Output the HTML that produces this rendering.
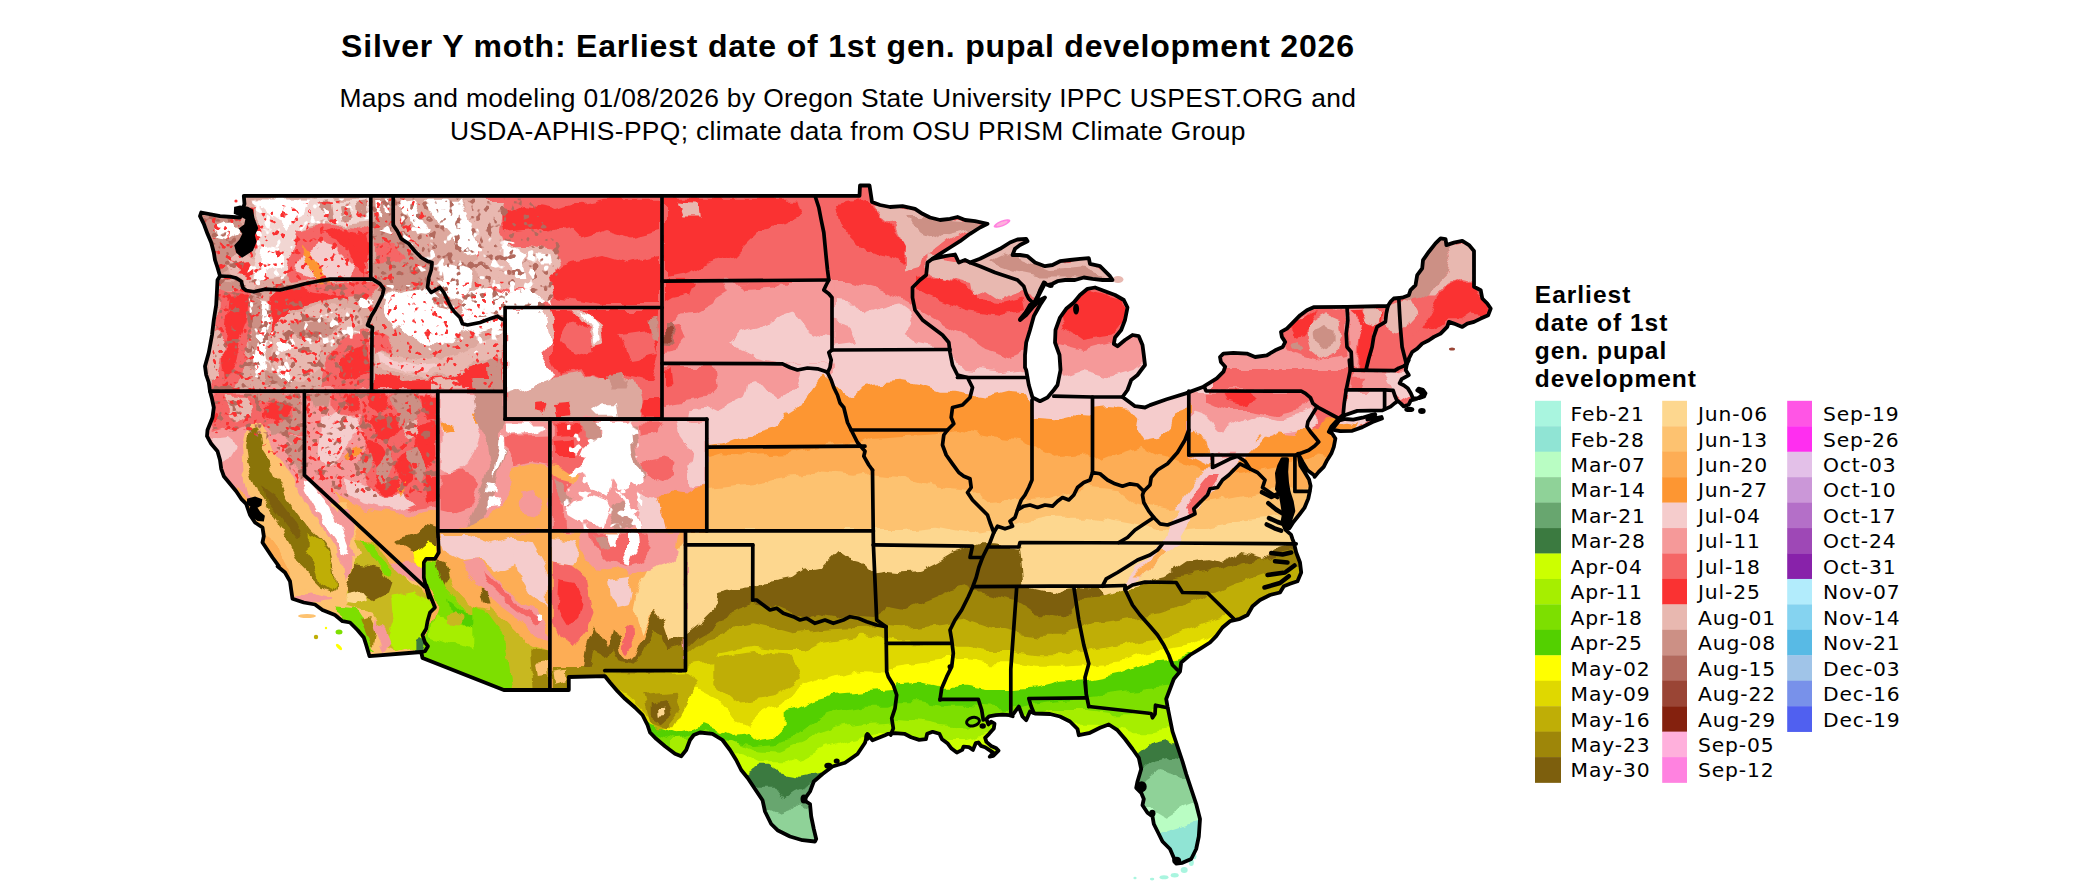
<!DOCTYPE html>
<html><head><meta charset="utf-8"><title>Silver Y moth</title>
<style>
html,body{margin:0;padding:0;background:#fff;}
body{width:2100px;height:892px;overflow:hidden;position:relative;font-family:"Liberation Sans",sans-serif;}
svg{position:absolute;left:0;top:0;}
.t{font-family:"Liberation Sans",sans-serif;fill:#000;}
.l{font-family:"DejaVu Sans","Liberation Sans",sans-serif;font-size:20.3px;letter-spacing:0.88px;fill:#000;}
</style></head><body>
<svg width="2100" height="892" viewBox="0 0 2100 892">
<rect width="2100" height="892" fill="#fff"/>
<defs><clipPath id="us"><path d="M243.8,195.8 244.5,203.8 240,217.5 220,216.2 201.2,212.5 200,216.2 203.8,223.8 207.5,233.8 211.2,242.5 213.8,252.5 215,260 217.5,267.5 220,276 217.5,280 217,290 216.2,305 213.8,320 212,335 208.8,352.5 205,366.2 206.2,375 208.8,382.5 210,391.2 212,398.8 213.8,407.5 212.5,417.5 207.5,430 207,436.2 211.2,443.8 217.5,451.2 220,460 221.2,468.8 223.8,476.2 230,483.8 236.2,491.2 241.2,498.8 246.2,503.8 250,515 255,522.5 262.5,527.5 263.8,536.2 262.5,542.5 267.5,550 272.5,557.5 278.8,566.2 277.5,566.2 285,572.5 290,581.2 291.2,590 292.5,598.8 303.8,602.5 315,604.5 322.5,610 335,615 342.5,621.2 350,622.5 357.5,630 363.8,637.5 366.2,645 369.5,656.2 421.2,652 422.5,658 503.8,690 568.8,690 568.8,677 605,676.2 610,682.5 617.5,691.2 625,698.8 635,707.5 642.5,715 647.5,725 650,732.5 656.2,738.8 665,746.2 675,753.8 681.2,756.2 686.2,750 690,740 693.8,735 700,732.5 712.5,733.8 722.5,740 730,750 736.2,760 741.2,770 747.5,777.8 755,789 762.5,800.2 765,811.5 771.2,824 777.5,830.2 790,836.5 802.5,840.2 815,841.5 816.2,839 813.8,829 811.2,816.5 810,804 803.8,800.2 810,791.5 813.8,781.5 822.5,774 832.5,766.5 845,762.8 857.5,754 865,742.8 867.5,734 872.5,740.2 885,735.2 888.2,733.8 895,733.1 904.4,733.8 911.1,737.2 919.2,739.9 925.9,739.2 927.2,733.8 932.6,731.8 939.4,733.8 942,739.2 947.4,743.2 951.5,748.6 956.8,752.6 962.2,749.9 963.6,746.6 968.9,747.2 973,749.9 975.7,743.2 978.4,742.5 981,745.9 985.1,747.2 989.1,749.9 993.2,752.6 989.8,756.7 993.2,756 998.5,750.6 995.8,747.9 991.1,745.9 986.4,741.9 985.1,737.8 989.1,733.8 993.8,728.4 994.5,723.7 991.1,721.7 988.4,724.4 986.4,719 989.1,716.3 995.8,715.2 1002.6,714.7 1009.3,715.2 1012.7,716.3 1012.5,715.2 1018.8,706.5 1022.5,716.5 1026.2,720.2 1030,711.5 1035,713.5 1050,714 1060,716.5 1070,721.5 1077.5,729 1078.8,735.2 1090,732.8 1100,727.8 1108.8,724.5 1117.5,730.2 1125,739 1132.5,749 1138.8,757.8 1141.2,769 1137.5,781.5 1136.2,787.8 1141.2,792.8 1143.8,799 1142.5,805.2 1147.5,812.8 1152.5,816.5 1153.8,824 1158.8,834 1162.5,841.5 1170,849 1173.8,857.8 1176.2,863.5 1182.5,862.8 1191.2,859 1196.2,849 1198.8,836.5 1200,819 1196.2,804 1191.2,789 1186.2,774 1182.5,761.5 1177.5,746.5 1172.5,731.5 1169.5,716.5 1167.5,706.5 1166.2,699 1170,689 1173.8,679 1180,671.5 1181.2,662.5 1190,655 1200,648.8 1210,642.5 1216.2,636.2 1222.5,627.5 1230,621.2 1240,618.8 1247.5,615 1252.5,606.2 1260,600 1270,595 1280,592.5 1283.8,586.2 1290,583.8 1297.5,581.2 1301.2,572.5 1300,562.5 1296.2,552.5 1293.8,542.5 1292.6,539.3 1291,534.6 1285.5,529.9 1282.4,522 1283.9,514.2 1282.4,504.8 1280.8,495.3 1276.9,489.1 1277.7,482.8 1276.9,473.4 1279.2,465.5 1282.4,459.2 1287.1,459.2 1286.3,471.8 1287.1,482.8 1288.7,492.2 1291.8,501.6 1293.4,511 1290.2,520.5 1289.4,528.3 1293.4,522 1299.6,514.2 1304.4,507.9 1308.3,498.5 1309.8,491.4 1310.6,485.9 1309.1,479.6 1304.4,471.8 1300.4,465.5 1298.9,455.3 1298.1,453.7 1302.8,462.4 1307.5,470.2 1313.8,474.9 1314.6,476.9 1318.7,471.9 1323.7,466.9 1327.1,460.2 1331.3,453.6 1333.8,446.9 1335.4,438.5 1332.1,433.5 1328.8,431.8 1331.3,426.8 1338.8,418.5 1338.8,418.5 1345.2,415 1357.3,410.9 1370.4,410.7 1382.5,410.4 1390.6,406.6 1395.1,402.9 1397.7,400.9 1400.7,403.4 1403.7,406.4 1408.8,404.4 1410.8,400.3 1416.8,398.8 1421.9,395.5 1420.9,392.5 1417.3,390.3 1418.6,388.6 1422.9,389.8 1425.5,393.3 1424.1,396.5 1419.1,398.1 1413,398.3 1410.8,393.3 1407.8,388.2 1403.7,385.2 1399.7,383.2 1401.7,379.2 1408.8,375.1 1405.7,370.1 1406.9,364 1408.8,360 1406.3,363.7 1408.8,358.7 1412.2,352 1417.2,348.6 1422.2,343.6 1428.9,340.3 1433.9,336.9 1440.6,333.6 1447.2,326.9 1448.9,321.9 1453.9,323.6 1462.3,326.9 1467.3,323.6 1474,321.9 1480.7,318.6 1488.2,315.2 1490.7,308.5 1487.3,303.5 1482.3,298.5 1480.7,290.2 1474,286.8 1474,250.9 1469,245.1 1462.3,240.9 1453.9,242.6 1446.4,245.1 1445.6,239.2 1440.6,238.4 1435.5,243.4 1428.9,251.7 1423,260.1 1422.2,268.4 1417.2,275.1 1415.5,285.2 1410.5,290.2 1408.8,295.2 1402.1,297.7 1393.8,298.5 1390.4,301.9 1387.9,306 1347,306.9 1313.6,307.2 1306.9,310.2 1300.2,315.2 1293.6,321.9 1286.9,328.6 1281,331.9 1281.9,336.9 1285.2,342 1282.7,347 1275.2,350.3 1266.8,355.3 1255.1,357 1246.8,353.6 1233.4,352.8 1223.4,353.6 1220,357 1220.9,362 1225.2,366.7 1223.5,371.7 1216.8,378.4 1203.5,386.7 1185.9,393.4 1166.7,399.3 1150,405.1 1145,407.5 1135,406.2 1130,402.5 1122.5,397 1127.5,390 1131.2,380 1137.5,375 1141.2,370 1145,365 1143.8,355 1142.5,345 1138.8,336.2 1132.5,335 1125,340 1117.5,346.2 1113.8,343.8 1115,337.5 1121.2,330 1125,320 1127.5,307.5 1123.8,300 1115,295 1105,291.2 1095,287.5 1087.5,288.8 1080,295 1073.8,302.5 1066.2,308.8 1060,317.5 1055.5,330 1055,342.5 1059.5,355 1060.5,370 1057.5,385 1053.8,390 1047.5,397.5 1040,401.2 1032.5,397.5 1028.8,385 1026.2,370 1025,367.5 1025,355 1026.2,342.5 1030,330 1033.8,316.2 1040,305 1045,297.5 1040,300 1032.5,307.5 1026.2,315 1020,320 1025,313.8 1030,305 1035,305 1037.5,297.5 1040,290 1043.8,282.5 1047.5,285 1052.5,283.8 1057.5,281.2 1065,280 1075,280 1083.8,277.5 1092.5,278.8 1102.5,280 1112.5,280 1110,276.2 1105,271.2 1100,266.2 1090,263.8 1088.8,258.2 1080,258.8 1070,260 1060,261.2 1052.5,265 1045,266.2 1035,262.5 1027.5,256.2 1020,255 1012.5,255 1015,248.8 1020,245 1027.5,241.2 1026.2,238.8 1017.5,239.5 1010,242.5 1000,248.8 990,253.8 980,258.8 970,262.5 965,260 958.8,262.5 955,254.5 945,256.2 932.5,258.8 940,253.8 950,247.5 960,241.2 970,233.8 980,227.5 987.5,223.8 975,221.2 965,220 957.5,217 950,218.8 940,220 930,217.5 922.5,213.8 915,208.8 902.5,206.2 890,207 880,205 872,202 869.5,185.5 860,185.5 859.5,195.8ZM1332.1,429.6 1339.2,420.5 1345.2,419 1353.3,419.7 1362.4,417.7 1370.4,415.2 1375.3,414.5 1374.5,416.5 1367.4,419.5 1381.5,417 1382,418.5 1372.5,422 1362.4,427.1 1352.3,430.8 1340.2,431.1Z"/></clipPath></defs>
<filter id="rough" x="0" y="0" width="2100" height="892" filterUnits="userSpaceOnUse" color-interpolation-filters="sRGB"><feTurbulence type="fractalNoise" baseFrequency="0.045" numOctaves="3" seed="7" result="n"/><feDisplacementMap in="SourceGraphic" in2="n" scale="13" xChannelSelector="R" yChannelSelector="G"/></filter>
<filter id="spw" x="0" y="0" width="2100" height="892" filterUnits="userSpaceOnUse" color-interpolation-filters="sRGB"><feTurbulence type="fractalNoise" baseFrequency="0.11" numOctaves="2" seed="3" result="t"/><feColorMatrix in="t" type="matrix" values="0 0 0 0 1 0 0 0 0 1 0 0 0 0 1 14 0 0 0 -8.5" result="m"/><feComposite in="SourceGraphic" in2="m" operator="in"/></filter>
<filter id="spb" x="0" y="0" width="2100" height="892" filterUnits="userSpaceOnUse" color-interpolation-filters="sRGB"><feTurbulence type="fractalNoise" baseFrequency="0.13" numOctaves="2" seed="11" result="t"/><feColorMatrix in="t" type="matrix" values="0 0 0 0 1 0 0 0 0 1 0 0 0 0 1 14 0 0 0 -8.4" result="m"/><feComposite in="SourceGraphic" in2="m" operator="in"/></filter>
<filter id="spr" x="0" y="0" width="2100" height="892" filterUnits="userSpaceOnUse" color-interpolation-filters="sRGB"><feTurbulence type="fractalNoise" baseFrequency="0.16" numOctaves="2" seed="23" result="t"/><feColorMatrix in="t" type="matrix" values="0 0 0 0 1 0 0 0 0 1 0 0 0 0 1 14 0 0 0 -8.8" result="m"/><feComposite in="SourceGraphic" in2="m" operator="in"/></filter>
<g clip-path="url(#us)"><g filter="url(#rough)">
<rect x="150" y="150" width="1400" height="750" fill="#F56666"/>
<path fill="#FA3232" d="M655,198.8 677.5,198.8 740,198.8 795,198.8 800,215 780,225 760,230 745,245 735,255 710,262.5 690,275 663.8,280 655,280Z"/>
<path fill="#E8B8B0" d="M677.5,202.5 697.5,203.8 698.8,217.5 682.5,217.5Z"/>
<path fill="#FA3232" d="M835,205 865,200 880,215 895,230 905,245 902.5,265 885,255 865,250 850,235 837.5,220Z"/>
<path fill="#F59999" d="M790,280 850,280 883.3,290 910,303.3 933.3,316.7 960,333.3 983.3,350 1006.7,356.7 1023.3,350 1056.7,343.3 1083.3,350 1110,343.3 1133.3,336.7 1150,330 1210,330 1210,470 790,470Z"/>
<path fill="#F5CCCC" d="M790,313.3 850,313.3 883.3,316.7 916.7,343.3 946.7,350 966.7,370 1000,373.3 1023.3,370 1063.3,376.7 1083.3,370 1110,376.7 1133.3,370 1150,356.7 1210,356.7 1210,470 790,470Z"/>
<path fill="#F59999" d="M661.7,281.7 833.8,281.7 833.8,450.4 661.7,450.4Z"/>
<path fill="#F56666" d="M661.7,281.7 720.2,281.7 726.9,293.4 710.2,303.4 695.1,311.8 680.1,313.4 670.1,325.1 661.7,326.8Z"/>
<path fill="#FA3232" d="M661.7,281.7 695.1,281.7 690.1,293.4 673.4,296.7 661.7,303.4Z"/>
<path fill="#F56666" d="M661.7,326.8 680.1,325.1 686.8,340.2 676.8,350.2 661.7,353.5Z"/>
<path fill="#F56666" d="M740.2,281.7 780.3,281.7 773.6,288.4 746.9,290Z"/>
<path fill="#F5CCCC" d="M730.2,343.5 740.2,333.5 778.7,320.1 795.4,313.4 807.1,328.5 828.8,340.2 833.8,350.2 833.8,363.6 787,362.7 756.9,356.9 740.2,350.2Z"/>
<path fill="#F56666" d="M663.4,366.9 713.5,366.9 716.8,383.6 703.5,397 683.4,400.3 663.4,403.6Z"/>
<path fill="#FA3232" d="M661.7,370.2 671.7,370.2 673.4,386.9 661.7,390.3Z"/>
<path fill="#F5CCCC" d="M703.5,450.4 723.5,407 743.6,397 746.9,383.6 756.9,381.9 767,393.6 778.7,398.6 795.4,386.9 800.4,373.6 823.8,370.2 833.8,376.9 833.8,450.4Z"/>
<path fill="#F5CCCC" d="M683.4,450.4 690.1,410.3 706.8,408.7 720.2,415.3 720.2,450.4Z"/>
<path fill="#F5CCCC" d="M785.3,363.6 828.8,363.6 828.8,376.9 800.4,373.6Z"/>
<path fill="#B36A5E" d="M662.6,323.5 671.7,321.8 676.8,333.5 674.2,346 664.2,344.3Z"/>
<path fill="#9A4535" d="M665.1,327.6 671.7,326.8 674.7,335.2 672.1,342.7 665.9,341Z"/>
<path fill="#F5CCCC" d="M833.8,300.1 853.8,301.7 863.9,313.4 877.2,308.4 900.6,303.4 914,313.4 907.3,325.1 900.6,340.2 883.9,343.5 857.2,343.5 833.8,343.5Z"/>
<path fill="#F59999" d="M833.8,320.1 850.5,325.1 857.2,343.5 833.8,346.8Z"/>
<path fill="#FA3232" d="M915,280 940,277.5 965,287.5 977.5,300 1002.5,302.5 1022.5,297.5 1025,310 1000,315 965,310 940,300 915,290Z"/>
<path fill="#FA3232" d="M1065,290 1090,290 1125,300 1127.5,320 1115,335 1080,340 1065,330 1060,310Z"/>
<path fill="#E8B8B0" d="M875,207.5 890,205 915,210 940,217.5 987.5,223.8 965,232.5 945,242.5 925,257.5 922.5,267.5 905,272.5 905,245 895,225 880,215Z"/>
<path fill="#CC9085" d="M905,215 927.5,215 952.5,221.2 987.5,223.8 965,231.2 940,237.5 920,230Z"/>
<path fill="#E8B8B0" d="M927.5,255 970,262.5 1015,280 1025,290 1000,300 985,290 972.5,297.5 970,285 950,280 927.5,275Z"/>
<path fill="#E8B8B0" d="M965,265 1010,237.5 1030,240 1065,262.5 1090,257.5 1115,280 1085,280 1052.5,285 1030,297.5 1015,280Z"/>
<path fill="#CC9085" d="M985,262.5 1005,252.5 1025,260 1050,270 1085,267.5 1105,277.5 1065,277.5 1040,277.5 1015,272.5Z"/>
<path fill="#FD9632" d="M648.3,445 708.3,445 720,443.3 736.7,436.7 760,431.7 776.7,426.7 786.7,413.3 800,405 807,393.7 816.7,380 824,373.7 832,377 840.3,387 853.7,397 864,387 874,383.7 880,383.3 900,381.7 920,385 940,391.7 953.3,391.7 973.3,395 986.7,396.7 1006.7,391.7 1026.7,393.3 1033.3,416.7 1053.3,418.3 1066.7,415 1090,416.7 1093.3,406.7 1110,405 1130,406.7 1138.3,416.7 1136.7,430 1143.3,440 1160,436.7 1170,426.7 1173.3,413.3 1183.3,410 1188.3,396.7 1188.3,454 1206.7,463.3 1230,463.3 1253.3,440 1273.3,433.3 1293.3,430 1320,426.7 1380,426.7 1380,900 648.3,900Z"/>
<path fill="#FDAD55" d="M648.3,456.7 708.3,456.7 720,453.3 753.3,455 786.7,453.3 820,446.7 853.3,443.3 873.3,436.7 903.3,435 936.7,433.3 953.3,430 986.7,436.7 1020,440 1033.3,446.7 1053.3,456.7 1086.7,453.3 1103.3,460 1120,453.3 1140,446.7 1160,456.7 1186.7,463.3 1220,476.7 1253.3,470 1286.7,463.3 1306.7,456.7 1366.7,456.7 1366.7,900 648.3,900Z"/>
<path fill="#FDC270" d="M626.7,490 686.7,490 720,486.7 753.3,483.3 786.7,476.7 820,473.3 853.3,476.7 873.3,473.3 903.3,476.7 936.7,486.7 970,490 986.7,503.3 1020,500 1053.3,496.7 1086.7,486.7 1120,490 1136.7,503.3 1170,510 1203.3,503.3 1236.7,496.7 1270,490 1293.3,486.7 1353.3,486.7 1353.3,900 626.7,900Z"/>
<path fill="#FDD78F" d="M626.7,530 686.7,530 870,530 873.3,530 903.3,530 936.7,526.7 970,533.3 986.7,530 1003.3,530 1020,523.3 1053.3,516.7 1086.7,516.7 1120,523.3 1140,526.7 1170,530 1203.3,526.7 1236.7,520 1270,516.7 1293.3,513.3 1353.3,513.3 1353.3,900 626.7,900Z"/>
<path fill="#7D5F0D" d="M540,668.3 600,668.3 681.7,668.3 683.3,630 686.7,633.3 703.3,620 716.7,606.7 720,593.3 733.3,590 753.3,586.7 760,581.7 776.7,580 793.3,576.7 803.3,570 820,566.7 830,556.7 836.7,550 846.7,556.7 860,560 870,570 875,573.3 886.7,571.7 903.3,573.3 920,571.7 936.7,563.3 953.3,553.3 970,548.3 983.3,543.3 996.7,543.3 1020,546.7 1021.7,563.3 1023.3,586.7 1053.3,593.3 1080,576.7 1093.3,583.3 1100,593.3 1106.7,606.7 1126.7,593.3 1153.3,580 1166.7,576.7 1186.7,563.3 1206.7,560 1220,563.3 1240,553.3 1260,560 1280,546.7 1293.3,543.3 1353.3,543.3 1353.3,900 540,900Z"/>
<path fill="#9E8609" d="M540,669.3 600,669.3 681.7,669.3 683.3,650 696.7,636.7 720,623.3 730,610 753.3,601.7 770,605 786.7,611.7 806.7,616.7 820,615 836.7,618.3 853.3,613.3 875,615 886.7,606.7 903.3,610 920,603.3 936.7,596.7 953.3,590 966.7,586.7 973.3,590 986.7,593.3 1016.7,600 1036.7,613.3 1053.3,616.7 1070,613.3 1080,603.3 1086.7,596.7 1103.3,595 1126.7,590 1140,586.7 1153.3,583.3 1180,576.7 1203.3,573.3 1220,570 1240,563.3 1260,560 1280,553.3 1293.3,550 1353.3,550 1353.3,900 540,900Z"/>
<path fill="#BFAE06" d="M540,670.7 600,670.7 653.3,672 681.7,666.7 683.3,656.7 703.3,640 720,636.7 736.7,626.7 753.3,623.3 770,626.7 793.3,633.3 820,630 853.3,628.3 883.3,626.7 903.3,628.3 920,626.7 946.7,623.3 966.7,620 986.7,626.7 1013.3,633.3 1036.7,636.7 1063.3,636.7 1080,630 1093.3,623.3 1120,620 1140,616.7 1160,613.3 1180,606.7 1193.3,603.3 1206.7,593.3 1220,590 1236.7,583.3 1253.3,576.7 1273.3,570 1333.3,570 1333.3,900 540,900Z"/>
<path fill="#DFD800" d="M563.3,686.7 623.3,686.7 640,680 660,673.3 686.7,666.7 713.3,663.3 720,653.3 736.7,650 753.3,646.7 780,650 806.7,650 820,643.3 840,640 860,636.7 883.3,640 896.7,643.3 920,643.3 946.7,646.7 966.7,646.7 986.7,650 1013.3,650 1036.7,653.3 1063.3,653.3 1086.7,650 1106.7,646.7 1126.7,643.3 1146.7,640 1166.7,636.7 1186.7,630 1203.3,623.3 1220,618.3 1233.3,616.7 1293.3,616.7 1293.3,900 563.3,900Z"/>
<path fill="#FFFF00" d="M593.3,726.7 653.3,726.7 676.7,696.7 696.7,690 716.7,700 730,716.7 746.7,726.7 760,713.3 780,703.3 793.3,690 806.7,683.3 826.7,676.7 846.7,673.3 860,670 883.3,671.7 896.7,666.7 920,663.3 946.7,660 966.7,660 986.7,663.3 1013.3,663.3 1036.7,666.7 1063.3,666.7 1086.7,665 1106.7,663.3 1126.7,660 1146.7,653.3 1166.7,650 1186.7,646.7 1200,640 1213.3,633.3 1273.3,633.3 1273.3,900 593.3,900Z"/>
<path fill="#53D000" d="M580,720 640,720 653.3,725 676.7,733.3 690,730 703.3,723.3 720,730 733.3,735 746.7,733.3 760,740 776.7,736.7 786.7,726.7 786.7,710 800,706.7 813.3,700 833.3,695 853.3,693.3 870,691.7 893.3,690 896.7,683.3 920,681.7 940,686.7 966.7,686.7 986.7,690 1013.3,690 1036.7,688.3 1050,685 1063.3,681.7 1086.7,680 1103.3,676.7 1120,673.3 1140,665 1153.3,661.7 1173.3,660 1186.7,655 1246.7,655 1246.7,900 580,900Z"/>
<path fill="#7DDF00" d="M593.3,731.7 653.3,731.7 676.7,740 690,736.7 703.3,730 720,736.7 733.3,741.7 753.3,745 776.7,743.3 793.3,736.7 806.7,726.7 820,716.7 840,710 860,706.7 886.7,706.7 896.7,703.3 920,703.3 940,706.7 966.7,706.7 986.7,708.3 1010,710 1030,703.3 1053.3,700 1086.7,696.7 1113.3,693.3 1140,690 1166.7,686.7 1226.7,686.7 1226.7,900 593.3,900Z"/>
<path fill="#A6EE00" d="M670,740 730,740 753.3,750 780,751.7 800,743.3 820,733.3 840,726.7 860,723.3 886.7,721.7 896.7,720 920,721.7 940,725 966.7,726.7 986.7,720 1010,716.7 1033.3,713.3 1053.3,710 1086.7,710 1113.3,713.3 1140,713.3 1166.7,706.7 1226.7,706.7 1226.7,900 670,900Z"/>
<path fill="#CCFF00" d="M680,753.3 740,753.3 760,763.3 786.7,763.3 806.7,756.7 826.7,746.7 846.7,740 866.7,736.7 886.7,733.3 913.3,736.7 940,740 966.7,740 986.7,733.3 1020,730 1053.3,726.7 1086.7,726.7 1113.3,726.7 1133.3,733.3 1153.3,733.3 1166.7,730 1226.7,730 1226.7,900 680,900Z"/>
<path fill="#3B7A40" d="M690,773.3 750,773.3 760,766.7 770,766.7 780,773.3 800,776.7 816.7,773.3 826.7,770 853.3,773.3 1120,773.3 1140,753.3 1153.3,743.3 1166.7,740 1173.3,743.3 1233.3,743.3 1233.3,900 690,900Z"/>
<path fill="#68A66F" d="M696.7,786.7 756.7,786.7 773.3,786.7 783.3,800 793.3,793.3 806.7,786.7 816.7,780 853.3,786.7 1120,786.7 1141.7,766.7 1156.7,760 1170,756.7 1176.7,760 1236.7,760 1236.7,900 696.7,900Z"/>
<path fill="#8FD298" d="M706.7,810 766.7,810 780,816.7 790,813.3 800,803.3 806.7,806.7 811.7,800 853.3,806.7 1120,806.7 1145,780 1160,770 1173.3,773.3 1183.3,780 1243.3,780 1243.3,900 706.7,900Z"/>
<path fill="#B9FDC3" d="M1026.7,840 1086.7,840 1150,806.7 1166.7,816.7 1183.3,806.7 1193.3,803.3 1253.3,803.3 1253.3,900 1026.7,900Z"/>
<path fill="#90E4D4" d="M1060,856.7 1120,856.7 1160,833.3 1180,826.7 1196.7,820 1256.7,820 1256.7,900 1060,900Z"/>
<path fill="#FDD78F" d="M1021.7,545 1053.3,546.7 1086.7,548.3 1120,550 1140,560 1140,576.7 1120,585 1100,590 1080,587.3 1053.3,590 1025,586.7 1023.3,563.3Z"/>
<path fill="#F59999" d="M1188.1,390.9 1301.2,390.9 1317.1,406.8 1307,426.8 1318.7,441.9 1297,454.4 1188.1,455.2Z"/>
<path fill="#F56666" d="M1206.8,391.7 1300.4,391.7 1310.4,398.4 1300.4,410.1 1277,415.1 1250.2,410.1 1225.2,410.1 1206.8,401.8Z"/>
<path fill="#FA3232" d="M1223.5,393.4 1250.2,393.4 1256.9,400.1 1243.6,405.1 1226.8,401.8Z"/>
<path fill="#F5CCCC" d="M1190.1,410.1 1205.1,415.1 1220.2,430.2 1236.9,423.5 1256.9,415.1 1277,420.1 1300.4,415.1 1310.4,410.1 1317.1,423.5 1307,430.2 1283.6,433.5 1256.9,440.2 1243.6,453.6 1190.1,454.4Z"/>
<path fill="#FD9632" d="M1243.6,454.4 1250.2,443.5 1256.9,435.2 1266.9,438.5 1277,433.5 1293.7,435.2 1300.4,430.2 1310.4,426.8 1317.1,430.2 1327.1,418.5 1337.1,416.8 1337.1,440.2 1330.4,460.2 1317.1,476.9 1293.7,460.2 1295.3,455.2Z"/>
<path fill="#FD9632" d="M1189.3,433.5 1196.8,431.8 1205.1,443.5 1208.5,453.6 1189.3,454.4Z"/>
<path fill="#FDAD55" d="M1300.4,460.2 1317.1,453.6 1330.4,456.9 1323.7,470.3 1314.6,478.6 1305.4,470.3Z"/>
<path fill="#F5CCCC" d="M1211.8,455.6 1236.9,455.6 1253.6,438.5 1266.9,433.5 1256.9,446.9 1243.6,460.2 1230.2,473.6 1216.8,487 1205.1,498.7 1193.4,510.4 1173.4,510.4 1186.8,493.6 1200.1,476.9 1210.1,463.6Z"/>
<path fill="#F56666" d="M1198.4,492 1206.8,476.9 1213.5,470.3 1216.8,473.6 1208.5,483.6 1203.5,493.6 1196.8,498.7Z"/>
<path fill="#F5CCCC" d="M1125,582.5 1135,570 1150,555 1160,545 1167.5,532.5 1175,517.5 1185,502.5 1197.5,485 1210,470 1230,470 1220,485 1205,497.5 1195,512.5 1185,530 1177.5,542.5 1167.5,552.5 1155,565 1140,577.5 1130,587.5Z"/>
<path fill="#F56666" d="M1185,507.5 1197.5,490 1210,475 1220,475 1210,490 1200,502.5 1190,517.5Z"/>
<path fill="#FDAD55" d="M1132.5,577.5 1150,560 1160,550 1167.5,552.5 1155,565 1140,577.5Z"/>
<path fill="#F59999" d="M1220,353.6 1283.5,347 1293.6,320.2 1313.6,306.9 1347,306.9 1350.4,369 1220,369Z"/>
<path fill="#F56666" d="M1280.2,336.9 1293.6,321.9 1313.6,308.5 1345.3,308.5 1345.3,353.6 1316.9,360.3 1293.6,353.6Z"/>
<path fill="#E8B8B0" d="M1306.9,326.9 1316.9,320.2 1327,315.2 1338.7,320.2 1340.3,336.9 1333.6,353.6 1320.3,358.7 1310.3,350.3 1306.9,336.9Z"/>
<path fill="#CC9085" d="M1313.6,333.6 1323.6,326.9 1333.6,330.3 1333.6,343.6 1323.6,350.3 1315.3,343.6Z"/>
<path fill="#CC9085" d="M1291.9,342 1296.9,340.3 1303.6,348.6 1300.2,352 1293.6,347Z"/>
<path fill="#FA3232" d="M1293.6,323.6 1306.9,313.6 1316.9,313.6 1310.3,323.6 1303.6,333.6 1295.2,335.3Z"/>
<path fill="#F59999" d="M1348.7,308.5 1367.1,308.5 1360.4,326.9 1357,347 1355.4,369 1351.2,369 1350.4,336.9Z"/>
<path fill="#FA3232" d="M1350.4,310.2 1385.4,308.5 1383.8,321.9 1375.4,326.9 1372.1,347 1367.1,369 1357,369 1358.7,336.9 1362,320.2Z"/>
<path fill="#E8B8B0" d="M1360.4,310.2 1383.8,308.5 1382.1,320.2 1373.7,323.6 1365.4,320.2Z"/>
<path fill="#F56666" d="M1375.4,330.3 1387.1,320.2 1398.8,306.9 1400.5,336.9 1405.5,362 1367.1,369 1372.1,350.3Z"/>
<path fill="#E8B8B0" d="M1388.8,303.5 1402.1,298.5 1410.5,300.2 1417.2,313.6 1408.8,323.6 1397.1,333.6 1388.8,330.3 1387.1,316.9Z"/>
<path fill="#CC9085" d="M1402.1,297.7 1408.8,295.2 1417.2,275.1 1423,260.1 1440.6,238.4 1447.2,245.1 1450.6,258.4 1447.2,270.1 1437.2,280.1 1430.5,293.5 1422.2,298.5 1410.5,300.2Z"/>
<path fill="#E8B8B0" d="M1447.2,245.1 1462.3,240.9 1474,250.9 1474,280.1 1460.6,276.8 1447.2,283.5 1437.2,293.5 1430.5,293.5 1437.2,280.1 1447.2,270.1 1450.6,258.4Z"/>
<path fill="#FA3232" d="M1430.5,313.6 1440.6,293.5 1447.2,285.2 1460.6,278.5 1474,281.8 1482.3,298.5 1490.7,308.5 1484,315.2 1470.6,313.6 1460.6,320.2 1447.2,320.2 1437.2,326.9 1428.9,330.3 1422.2,326.9Z"/>
<path fill="#F56666" d="M1403.8,336.9 1422.2,326.9 1437.2,328.6 1447.2,321.9 1440.6,333.6 1422.2,343.6 1408.8,358.7 1406.3,363.7Z"/>
<path fill="#CC9085" d="M1448.9,326.9 1460.6,326.9 1465.6,328.6 1457.3,335.3 1447.2,331.9Z"/>
<path fill="#F5CCCC" d="M1345.5,390.9 1392.2,390.9 1395.6,406.8 1338.8,418.5 1343.8,410.1Z"/>
<path fill="#F59999" d="M1353,370 1395.6,372.5 1408.9,365 1403.9,380 1410.6,393.4 1400.6,400.1 1392.2,390.9 1347.1,390.9Z"/>
<path fill="#F5CCCC" d="M1383.9,373.4 1407.3,370 1403.9,380 1410.6,393.4 1400.6,400.1 1390.6,390.1Z"/>
<path fill="#F56666" d="M1350.5,376.7 1367.2,376.7 1363.8,386.7 1350.5,388.4Z"/>
<path fill="#F5CCCC" d="M1338.8,420.1 1373.9,411.8 1382.2,417.6 1350.5,429.3 1333.8,426.8Z"/>
<path fill="#FD9632" d="M1333.8,423.5 1347.1,421.8 1357.2,423.5 1350.5,429.3 1333.8,428.5Z"/>
<path fill="#BFAE06" d="M606.7,675 686.7,672.3 700,681.7 686.7,705 673.3,728.3 656.7,728.3 646.7,715 633.3,701.7 616.7,688.3Z"/>
<path fill="#9E8609" d="M643.3,695 673.3,691.7 680,711.7 666.7,728.3 650,721.7Z"/>
<path fill="#7D5F0D" d="M651.7,703.3 666.7,700 671.7,715 661.7,723.3 651.7,717.7Z"/>
<path fill="#FDD78F" d="M658,708.3 664,707.7 664.7,715 658.7,715.7Z"/>
<path fill="#BFAE06" d="M713.3,658.3 753.3,651.7 793.3,655 800,678.3 773.3,695 733.3,701.7 713.3,685Z"/>
<path fill="#DDA89E" d="M180,180 505,180 505,405 180,405Z"/>
<path fill="#F56666" d="M487.5,195 665,195 665,405 505,405 505,310 492.5,300 480,267.5 475,230Z"/>
<path fill="#CC9085" d="M200,212.5 220,216.2 240,217.5 242.5,235 237.5,255 225,272.5 220,272.5 215,260 207.5,233.8Z"/>
<path fill="#FFFFFF" d="M215,225 225,221.2 236.2,225 238.8,233.8 230,238.8 220,236.2Z"/>
<path fill="#E8B8B0" d="M237.5,252.5 252.5,255 262.5,275 255,290 242.5,286.2 241.2,278.8 230,273 227.5,262.5Z"/>
<path fill="#FA3232" d="M238.8,262.5 247.5,260 252.5,267.5 247.5,275 240,272.5Z"/>
<path fill="#FA3232" d="M255,225 262.5,222.5 265,237.5 260,252.5 255,245Z"/>
<path fill="#F1D6D2" d="M255,198.8 370,198.8 370,222.5 340,225 320,222.5 305,227.5 297.5,240 290,255 285,275 262.5,277.5 252.5,275 252.5,262.5 260,245 262.5,230 256.2,217.5Z"/>
<path fill="#FFFFFF" d="M260,200 310,200 305,212.5 295,217.5 287.5,230 280,222.5 267.5,217.5 260,210Z"/>
<path fill="#FFFFFF" d="M262.5,247.5 280,245 285,255 280,267.5 267.5,270 260,262.5Z"/>
<path fill="#FFFFFF" d="M252.5,267.5 265,265 267.5,275 255,277.5Z"/>
<path fill="#CC9085" d="M320,202.5 330,201.2 332.5,220 325,222.5Z"/>
<path fill="#CC9085" d="M340,202.5 350,201.2 352.5,217.5 342.5,220Z"/>
<path fill="#CC9085" d="M357.5,202.5 367.5,201.2 368.8,217.5 360,220Z"/>
<path fill="#F56666" d="M297.5,230 320,225 350,227.5 370,230 370,278.8 330,278.8 310,282.5 290,285 285,275 290,255 295,242.5Z"/>
<path fill="#FA3232" d="M320,235 340,230 365,235 368.8,255 365,275 355,265 350,247.5 335,240Z"/>
<path fill="#F5CCCC" d="M305,252.5 320,242.5 335,245 345,255 355,265 350,275 330,277.5 310,280 297.5,275 300,262.5Z"/>
<path fill="#FD9632" d="M301.9,245.1 306.9,251.8 313.6,261.8 322,268.5 332,281.9 323.6,283.6 317,276.9 310.3,268.5 305.3,260.2 302.8,251.8Z"/>
<path fill="#F56666" d="M220,290 252.5,292.5 255,310 250,330 245,355 240,380 235,391.2 210,391.2 212.5,355 217.5,320Z"/>
<path fill="#FA3232" d="M230,297.5 250,297.5 247.5,320 240,340 235,365 225,380 222.5,355 226.2,330Z"/>
<path fill="#CC9085" d="M217.5,280 240,282.5 242.5,290 220,290Z"/>
<path fill="#E8B8B0" d="M210,335 220,330 222.5,355 217.5,380 207.5,380Z"/>
<path fill="#FFFFFF" d="M262.5,297.5 268.8,305 267.5,330 265,350 260,367.5 253.8,367.5 256.2,342.5 260,320Z"/>
<path fill="#CC9085" d="M252.5,297.5 262.5,297.5 260,320 255,350 252.5,370 247.5,370 250,335Z"/>
<path fill="#FA3232" d="M272.5,291.2 300,288 320,286.2 340,290 330,300 310,305 290,310 280,325 272.5,335 270,315Z"/>
<path fill="#F56666" d="M290,287.5 340,280 372.5,280 380,285 370,297.5 345,297.5 320,292.5Z"/>
<path fill="#F56666" d="M335,340 370,330 371.5,391.2 320,391.2 325,365Z"/>
<path fill="#FA3232" d="M340,355 365,345 370,370 355,380 340,375Z"/>
<path fill="#E8B8B0" d="M280,320 300,310 330,305 355,310 365,325 340,335 320,345 320,370 300,380 280,375 270,355 272.5,335Z"/>
<path fill="#CC9085" d="M290,325 320,320 345,322.5 330,335 310,340 295,340Z"/>
<path fill="#CC9085" d="M265,370 285,375 290,385 265,387.5Z"/>
<path fill="#FFFFFF" d="M275,340 290,340 291.2,348.8 277.5,352.5Z"/>
<path fill="#FFFFFF" d="M355,297.5 371.2,300 372.5,305 357.5,305Z"/>
<path fill="#FFFFFF" d="M252.5,355 265,352.5 267.5,370 255,372.5Z"/>
<path fill="#FFFFFF" d="M280,365 287.5,363.8 290,380 282.5,380Z"/>
<path fill="#CC9085" d="M373.8,198.8 392.5,198.8 393.2,225 405,241.2 420,257.5 430,262.5 427.5,287.5 420,290 405,287.5 390,295 380,285 373.8,279.2Z"/>
<path fill="#F56666" d="M373.8,242.5 395,245 405,255 400,262.5 375,265Z"/>
<path fill="#FFFFFF" d="M376.2,200 380,200 381.2,217.5 377.5,215Z"/>
<path fill="#FFFFFF" d="M383.8,200 388.8,200 389.5,212.5 385,212.5Z"/>
<path fill="#FFFFFF" d="M387.5,297.5 405,290 420,287.5 430,295 440,290 447.5,302.5 457.5,316.2 462.5,327.5 455,340 440,347.5 425,346.2 412.5,335 400,325 392.5,330 385,315Z"/>
<path fill="#CC9085" d="M430,295 440,290 445,297.5 450,310 440,307.5Z"/>
<path fill="#FFFFFF" d="M465,320 492.5,316.2 502.5,320 502.5,330 490,330 475,335 462.5,330Z"/>
<path fill="#E8B8B0" d="M373.8,352.5 392.5,355 417.5,360 442.5,357.5 467.5,350 492.5,335 503.8,332.5 503.8,352.5 480,362.5 455,372.5 425,377.5 395,372.5 373.8,365Z"/>
<path fill="#F5CCCC" d="M377.5,352.5 395,360 420,365 445,362.5 430,372.5 405,372.5 380,362.5Z"/>
<path fill="#FA3232" d="M373.8,372.5 405,380 442.5,377.5 480,365 503.8,355 503.8,391.2 373.8,391.2Z"/>
<path fill="#E8B8B0" d="M430,380 455,377.5 460,391.2 430,391.2Z"/>
<path fill="#CC9085" d="M487.5,360 502.5,355 503.8,391.2 490,391.2Z"/>
<path fill="#F56666" d="M375,330 387.5,335 392.5,352.5 375,352.5Z"/>
<path fill="#FFFFFF" d="M425,198.8 460,198.8 467.5,217.5 475,237.5 478.8,252.5 467.5,255 455,242.5 445,230 435,217.5Z"/>
<path fill="#FFFFFF" d="M400,202.5 412.5,200 420,215 427.5,230 420,232.5 410,220Z"/>
<path fill="#FFFFFF" d="M440,267.5 450,262.5 465,265 472.5,275 470,287.5 462.5,300 452.5,297.5 442.5,285Z"/>
<path fill="#FFFFFF" d="M502.5,248.8 517.5,246.2 530,255 525,265 527.5,280 515,280 510,265 502.5,260Z"/>
<path fill="#FFFFFF" d="M537.5,255 548.8,256.2 550,262.5 540,262.5Z"/>
<path fill="#FFFFFF" d="M487.5,252.5 495,251.2 496.2,260 488.8,261.2Z"/>
<path fill="#FFFFFF" d="M470,290 492.5,287.5 512.5,292.5 530,290 547.5,300 542.5,307.5 505,308 500,315 487.5,317.5 465,320 460,305Z"/>
<path fill="#E8B8B0" d="M462.5,200 505,200 502.5,215 500,230 505,245 530,245 555,250 560,265 550,280 555,292.5 550,305 530,290 512.5,290 492.5,285 480,287.5 475,262.5 480,252.5 476.2,237.5 467.5,217.5Z"/>
<path fill="#FFFFFF" d="M502.5,248.8 517.5,246.2 530,255 525,265 527.5,280 515,280 510,265 502.5,260Z"/>
<path fill="#FFFFFF" d="M537.5,255 548.8,256.2 550,262.5 540,262.5Z"/>
<path fill="#CC9085" d="M530,212.5 545,211.2 547.5,222.5 532.5,223.8Z"/>
<path fill="#FFFFFF" d="M535,216.2 542.5,216.2 542.5,221.2 535,221.2Z"/>
<path fill="#FA3232" d="M502.5,215 525,205 555,210 575,205 605,198.8 660,198.8 660,230 630,237.5 605,230 580,237.5 570,227.5 550,232.5 530,227.5 505,230Z"/>
<path fill="#FA3232" d="M550,275 570,262.5 605,255 630,262.5 660,255 660,305 605,305 555,297.5Z"/>
<path fill="#FA3232" d="M550,310 660,310 660,355 650,380 630,375 605,380 580,370 560,375 550,355Z"/>
<path fill="#F56666" d="M570,320 590,330 592.5,350 575,355 560,340Z"/>
<path fill="#F56666" d="M620,335 655,330 660,355 630,360Z"/>
<path fill="#FFFFFF" d="M506.2,308.8 540,308.8 547.5,320 550,340 540,350 555,375 550,380 530,387.5 512.5,395 506.2,395Z"/>
<path fill="#E8B8B0" d="M540,308.8 550,310 555,330 550,340 547.5,320Z"/>
<path fill="#FFFFFF" d="M577.5,311.2 587.5,315 596.2,325 598.8,337.5 593.8,342.5 590,330 582.5,320Z"/>
<path fill="#E8B8B0" d="M572.5,310 580,310 600,325 602.5,342.5 592.5,345 587.5,330Z"/>
<path fill="#FFFFFF" d="M577.5,311.2 587.5,315 596.2,325 598.8,337.5 593.8,342.5 590,330 582.5,320Z"/>
<path fill="#DDA89E" d="M506.2,395 530,387.5 555,377.5 580,372.5 605,380 620,375 635,380 642.5,400 640,421.2 506.2,421.2Z"/>
<path fill="#FA3232" d="M555,405 570,403.8 572.5,416.2 557.5,417.5Z"/>
<path fill="#CC9085" d="M605,377.5 620,375 630,380 627.5,387.5 610,387.5Z"/>
<path fill="#CC9085" d="M650.4,318.4 659.6,316.7 660.1,338.4 653.7,335.1Z"/>
<path fill="#F59999" d="M163,390 505,390 505,419 707,419 707,531 686,531 686,670 600,670 600,900 163,900Z"/>
<path fill="#F56666" d="M210.1,393.4 303.6,393.4 303.6,435.1 286.9,435.1 266.9,430.1 250.2,423.4 235.1,430.1 223.4,426.8 211.7,430.1Z"/>
<path fill="#FA3232" d="M263.5,405.1 283.6,403.4 293.6,408.4 288.6,418.4 273.6,421.8 263.5,415.1Z"/>
<path fill="#CC9085" d="M250.2,393.4 303.6,393.4 303.6,430.1 296.9,435.1 286.9,430.1 273.6,435.1 266.9,428.4 280.2,421.8 293.6,418.4 295.3,406.7 273.6,401.7 253.5,401.7Z"/>
<path fill="#CC9085" d="M286.9,435.1 300.3,436.8 303.6,460.2 302,473.6 296.9,466.9 291.9,450.2Z"/>
<path fill="#E8B8B0" d="M226.8,396.7 246.8,396.7 250.2,413.4 236.8,423.4 226.8,413.4Z"/>
<path fill="#F5CCCC" d="M213.4,436.8 230.1,435.1 236.8,446.8 230.1,458.5 220.1,463.5 213.4,451.8Z"/>
<path fill="#CC9085" d="M296.9,466.9 303.6,470.2 307,480.2 302,478.6 296.9,475.2Z"/>
<path fill="#F56666" d="M360.4,393.4 438.1,393.4 438.1,507 413.9,510.3 388.8,503.6 367.1,486.9 357.1,463.5 363.8,438.5 360.4,413.4Z"/>
<path fill="#F56666" d="M330.4,393.4 360.4,393.4 360.4,413.4 340.4,410.1 330.4,403.4Z"/>
<path fill="#FA3232" d="M420.6,395 438.1,395 438.1,423.4 427.2,420.1 422.2,406.7Z"/>
<path fill="#FA3232" d="M363.8,440.1 380.5,443.5 387.2,456.8 377.1,466.9 365.4,460.2Z"/>
<path fill="#FA3232" d="M395.5,463.5 403.9,450.2 410.5,466.9 413.9,480.2 403.9,486.9 395.5,480.2Z"/>
<path fill="#FA3232" d="M423.9,480.2 438.1,473.6 438.1,500.3 427.2,503.6Z"/>
<path fill="#F5CCCC" d="M320.3,418.4 340.4,410.1 357.1,416.8 363.8,430.1 347.1,443.5 337,463.5 327,466.9 318.7,453.5Z"/>
<path fill="#F5CCCC" d="M347.1,480.2 363.8,486.9 387.2,496.9 403.9,493.6 413.9,503.6 397.2,510.3 363.8,503.6 347.1,493.6Z"/>
<path fill="#FA3232" d="M368.8,393.4 388.8,395 387.2,405.1 377.1,410.1 370.4,403.4Z"/>
<path fill="#FA3232" d="M372.1,413.4 393.8,415.1 402.2,430.1 390.5,443.5 377.1,436.8 370.4,423.4Z"/>
<path fill="#FA3232" d="M410.5,426.8 435.6,423.4 436.4,460.2 427.2,466.9 413.9,453.5Z"/>
<path fill="#FA3232" d="M377.1,473.6 393.8,480.2 403.9,490.3 387.2,495.3 373.8,486.9Z"/>
<path fill="#FA3232" d="M347.1,395 360.4,396.7 357.1,408.4 345.4,406.7Z"/>
<path fill="#CC9085" d="M390.5,395 413.9,393.4 422.2,406.7 413.9,418.4 403.9,430.1 395.5,416.8 392.2,405.1Z"/>
<path fill="#CC9085" d="M308.6,393.4 330.4,395 327,406.7 312,408.4Z"/>
<path fill="#CC9085" d="M357.1,460.2 367.1,453.5 370.4,466.9 363.8,480.2 357.1,473.6Z"/>
<path fill="#CC9085" d="M377.1,466.9 390.5,450.2 395.5,460.2 385.5,480.2 378.8,483.6Z"/>
<path fill="#CC9085" d="M403.9,450.2 417.2,446.8 427.2,466.9 422.2,483.6 413.9,473.6Z"/>
<path fill="#E8B8B0" d="M407.2,420.1 417.2,418.4 413.9,435.1 405.5,440.1Z"/>
<path fill="#FDAD55" d="M330.4,486.9 340.4,496.9 363.8,508.6 388.8,512 413.9,515.3 438.1,510.3 438.1,563.8 365.4,563.8 343.7,510.3Z"/>
<path fill="#FD9632" d="M347.1,453.5 357.1,445.2 359.6,448.5 350.4,458.5Z"/>
<path fill="#FD9632" d="M397.2,488.6 403.9,481.9 405.5,490.3 400.5,496.9Z"/>
<path fill="#F5CCCC" d="M440.6,395 487.4,395 490.7,413.4 480.7,430.1 474,450.2 464,466.9 450.6,473.6 440.6,466.9Z"/>
<path fill="#FD9632" d="M440.6,423.8 452.3,422.6 452.6,430.1 442.3,432.1Z"/>
<path fill="#FD9632" d="M472.3,413.4 484,415.1 487.4,426.8 477.4,426.8Z"/>
<path fill="#F56666" d="M440.6,473.6 464,470.2 480.7,480.2 470.7,507 454,513.6 440.6,510.3Z"/>
<path fill="#F56666" d="M505.1,435.1 548.5,433.4 548.5,465.2 530.1,461.8 513.4,465.2 506.7,450.1Z"/>
<path fill="#CC9085" d="M470,380 503.4,380 503.4,420 496.7,433.4 505.1,450.1 500,470.2 490,500.2 480,527 466.6,527 480,493.6 490,466.8 486.7,441.8 476.7,420Z"/>
<path fill="#FDAD55" d="M513.4,466.8 530.1,463.5 548.5,466.8 548.5,531.1 460,531.1 470,523.6 486.7,516.9 500,506.9 510.1,490.2Z"/>
<path fill="#F59999" d="M520.1,493.6 535.1,490.2 543.5,503.6 535.1,516.9 523.4,513.6Z"/>
<path fill="#FFFFFF" d="M503.4,423.4 541.8,423.4 543.5,426.7 530.1,431.7 513.4,433.4 505.1,430.1Z"/>
<path fill="#FFFFFF" d="M500,433.4 505.1,435.1 504.2,450.1 498.4,470.2 493.4,476.8 495,463.5 498.4,450.1Z"/>
<path fill="#FFFFFF" d="M488.4,481.9 495,483.5 493.4,493.6 486.7,491Z"/>
<path fill="#FFFFFF" d="M486.7,496.9 496.7,498.6 498.4,506.9 486.7,508.6Z"/>
<path fill="#F56666" d="M551.8,420.9 596.9,420.9 586.9,456.8 573.6,476.8 563.5,503.6 566.9,531.1 551.8,531.1Z"/>
<path fill="#FA3232" d="M553.5,423.4 580.2,423.4 578.6,433.4 555.2,435.1Z"/>
<path fill="#FA3232" d="M553.5,440.1 573.6,438.4 575.2,455.1 555.2,455.1Z"/>
<path fill="#CC9085" d="M580.2,421.7 596.9,421.7 600.3,438.4 590.3,443.4 581.9,436.8Z"/>
<path fill="#FDAD55" d="M551.8,465.2 563.5,466.8 573.6,473.5 580.2,478.5 573.6,481.9 560.2,478.5 551.8,473.5Z"/>
<path fill="#CC9085" d="M553.5,478.5 563.5,483.5 573.6,496.9 566.9,506.9 558.5,493.6Z"/>
<path fill="#F59999" d="M635.4,421.7 705.5,421.7 705.5,483.5 697.2,486.9 687.2,493.6 672.1,490.2 660.4,496.9 650.4,498.6 643.7,493.6 640.4,475.2 635.4,463.5 632,450.1Z"/>
<path fill="#F5CCCC" d="M677.1,421.7 705.5,421.7 705.5,483.5 690.5,486.9 687.2,466.8 690.5,450.1 680.5,436.8Z"/>
<path fill="#F56666" d="M640.4,463.5 663.8,458.5 675.5,461.8 673.8,473.5 663.8,480.2 650.4,476.8 640.4,471.8Z"/>
<path fill="#F56666" d="M635.4,423.4 663.8,423.4 657.1,433.4 637,436.8Z"/>
<path fill="#F5CCCC" d="M640.4,493.6 657.1,498.6 662.1,516.9 665.4,531.1 640.4,531.1 637,516.9Z"/>
<path fill="#FD9632" d="M657.1,498.6 672.1,491.9 687.2,493.6 697.2,486.9 705.9,483.5 705.9,531.1 665.4,531.1 662.1,516.9Z"/>
<path fill="#CC9085" d="M612,506.9 620.3,500.2 627,506.9 632,516.9 630.4,528.6 617,530.3 610.3,516.9Z"/>
<path fill="#CC9085" d="M627,423.4 633.7,423.4 637,450.1 643.7,478.5 637,478.5 630.4,450.1Z"/>
<path fill="#FFFFFF" d="M595.3,421.7 627,421.7 630.4,433.4 632,450.1 635.4,463.5 640.4,475.2 642,483.5 637,486.9 630.4,481.9 627,486.9 620.3,490.2 613.6,478.5 612,493.6 607,500.2 596.9,493.6 586.9,488.5 583.6,473.5 573.6,476.8 568.5,473.5 580.2,466.8 586.9,456.8 580.2,455.1 583.6,446.8 593.6,441.8 600.3,438.4 600.3,428.4Z"/>
<path fill="#FFFFFF" d="M566.9,506.9 573.6,500.2 586.9,496.9 596.9,500.2 607,503.6 610.3,510.3 607,516.9 603.6,528.6 596.9,523.6 586.9,520.3 576.9,522 568.5,516.9Z"/>
<path fill="#FFFFFF" d="M617,490.2 622,493.6 630.4,506.9 637,520.3 640.4,531.1 633.7,531.1 630.4,520.3 625.3,506.9Z"/>
<path fill="#FFFFFF" d="M591.9,411.7 603.6,403.3 617,403.3 618.7,416.7 596.9,416.7Z"/>
<path fill="#FA3232" d="M643.7,400 662.1,400 662.1,418.4 647.1,418.4 640.4,410Z"/>
<path fill="#FA3232" d="M535.1,401.7 546.8,400.8 543.5,411.7 535.1,410Z"/>
<path fill="#FDC270" d="M246.7,503.3 346.9,503.3 357,536.7 397.1,575.1 423.8,583.5 430.5,606.9 422.1,653.6 367,658.7 280.1,603.5 246.7,536.7Z"/>
<path fill="#FDAD55" d="M423.2,531.4 550.2,531.4 550.2,703.8 423.2,703.8Z"/>
<path fill="#FDAD55" d="M550.2,531.4 684.6,531.4 684.6,670 605.3,670 605.3,677.9 568.9,677.9 568.9,690.4 550.2,690.4Z"/>
<path fill="#F59999" d="M336.9,510 350.3,510 353.6,536.7 350.3,575.1 336.9,586.8 334.4,570.1 346.9,553.4 343.6,536.7Z"/>
<path fill="#F59999" d="M293.5,593.5 323.6,590.2 336.9,593.5 330.2,600.2 310.2,603.5 296.8,600.2Z"/>
<path fill="#C8B820" d="M357,536.7 373.7,540 390.4,563.4 403.7,576.8 422.1,590.2 430.5,606.9 423.8,636.9 417.1,647 397.1,652 387,647 380.4,626.9 370.3,613.6 346.9,606.9 343.6,593.5 353.6,563.4 362,550.1Z"/>
<path fill="#7D5F0D" d="M345.3,586.8 353.6,565.1 367,566.8 380.4,570.1 390.4,583.5 387,593.5 373.7,600.2 363.6,595.2 357,600.2 345.3,596.8Z"/>
<path fill="#7D5F0D" d="M397.1,540 413.8,533.4 427.1,526.7 437.2,530 437.2,553.4 423.8,560.1 413.8,553.4 403.7,546.7Z"/>
<path fill="#FDD78F" d="M343.6,593.5 360.3,590.2 367,598.5 357,603.5 345.3,601.9Z"/>
<path fill="#FFFF00" d="M413.8,553.4 427.1,543.4 437.2,546.7 437.2,560.1 423.8,570.1 417.1,563.4Z"/>
<path fill="#B4F000" d="M390.4,596.8 413.8,591.8 432.1,606.9 423.8,636.9 418.8,647 397.1,652 387,640.3 393.7,620.2Z"/>
<path fill="#7DDF00" d="M362,536.7 372,541.7 380.4,558.4 390.4,570.1 387,575.1 377,566.8 368.7,551.7Z"/>
<path fill="#7DDF00" d="M336.9,608.5 357,610.2 363.6,620.2 370.3,636.9 373.7,652 368.7,653.6 360.3,636.9 346.9,623.6 336.9,615.2Z"/>
<path fill="#9E8609" d="M360.3,620.2 370.3,616.9 377,630.3 373.7,647 367,636.9Z"/>
<path fill="#F59999" d="M373.7,620.2 383.7,626.9 390.4,643.6 383.7,652 377,636.9Z"/>
<path fill="#3B7A40" d="M415.4,640.3 420.4,636.9 427.1,645.3 430.5,655.3 422.1,657 415.4,648.6Z"/>
<path fill="#C8B820" d="M425.5,558.4 445.5,563.4 452.2,586.8 463.9,598.5 473.9,606.9 490.6,610.2 504,620.2 517.3,633.6 530.7,647 547.4,657 547.4,703.8 430.5,703.8 422.1,653.6 427.1,636.9 435.5,606.9 428.8,586.8 423.8,570.1Z"/>
<path fill="#7D5F0D" d="M437.2,560.1 445.5,563.4 448.8,576.8 443.8,586.8 438.8,575.1Z"/>
<path fill="#7D5F0D" d="M480.6,591.8 487.3,591.8 490.6,603.5 483.9,603.5Z"/>
<path fill="#7DDF00" d="M425.5,560.1 437.2,561.8 440.5,576.8 447.2,591.8 457.2,601.9 467.2,615.2 483.9,615.2 497.3,625.2 510.7,642 517.3,655.3 524,703.8 430.5,703.8 422.1,653.6 427.1,636.9 435.5,606.9 428.8,586.8 423.8,570.1Z"/>
<path fill="#A6EE00" d="M433.8,613.6 452.2,620.2 470.6,626.9 483.9,640.3 480.6,653.6 463.9,647 447.2,643.6 430.5,636.9Z"/>
<path fill="#53D000" d="M447.2,598.5 463.9,613.6 480.6,616.9 493.9,626.9 504,643.6 497.3,647 483.9,633.6 467.2,626.9 450.5,613.6Z"/>
<path fill="#C8B820" d="M445.5,613.6 453.9,610.2 463.9,616.9 457.2,623.6 447.2,621.9Z"/>
<path fill="#F59999" d="M460.5,563.4 477.2,560.1 490.6,573.5 504,590.2 517.3,600.2 530.7,613.6 544.1,626.9 547.4,640.3 537.4,636.9 524,623.6 510.7,613.6 497.3,603.5 480.6,590.2 467.2,576.8Z"/>
<path fill="#F56666" d="M480.6,570.1 490.6,576.8 497.3,590.2 490.6,590.2 482.3,580.1Z"/>
<path fill="#F5CCCC" d="M440.5,535 467.2,535 490.6,543.4 514,536.7 527.4,550.1 514,563.4 497.3,570.1 480.6,560.1 463.9,561.8 447.2,553.4Z"/>
<path fill="#F5CCCC" d="M510.1,536.7 530.1,540 546.8,570.1 546.8,606.9 530.1,593.5 516.8,570.1Z"/>
<path fill="#F59999" d="M480,561.8 490,570.1 503.4,590.2 520.1,600.2 535.1,610.2 546.8,623.6 543.5,630.3 530.1,626.9 513.4,613.6 496.7,598.5 483.3,583.5 480,575.1Z"/>
<path fill="#F56666" d="M483.3,570.1 493.4,580.1 506.7,595.2 523.4,606.9 540.1,620.2 536.8,625.2 520.1,613.6 503.4,600.2 486.7,583.5Z"/>
<path fill="#C8B820" d="M490,606.9 503.4,620.2 516.8,633.6 530.1,647 548.5,653.6 548.5,703.8 513.4,703.8 506.7,643.6 500,626.9 490,613.6Z"/>
<path fill="#9E8609" d="M530.1,650.3 548.5,653.6 548.5,703.8 533.5,703.8Z"/>
<path fill="#FDC270" d="M535.1,663.7 546.8,662 547.7,675.4 536.8,677Z"/>
<path fill="#7DDF00" d="M473.3,606.9 490,613.6 500,626.9 506.7,643.6 513.4,703.8 473.3,703.8Z"/>
<path fill="#FFFFFF" d="M535.1,613.6 541.8,615.2 541,620.2 536,619.4Z"/>
<path fill="#FDD78F" d="M647.1,570.1 684.6,545.1 684.6,636.9 670.4,640.3 663.8,620.2 657.1,610.2 647.1,623.6 640.4,636.9 633.7,613.6 637,590.2Z"/>
<path fill="#F5CCCC" d="M551.8,536.7 573.6,540 580.2,553.4 573.6,566.8 551.8,563.4Z"/>
<path fill="#F59999" d="M580.2,532.5 680.5,532.5 677.1,553.4 663.8,563.4 647.1,570.1 630.4,575.1 623.7,570.1 613.6,566.8 596.9,570.1 586.9,560.1 580.2,546.7Z"/>
<path fill="#F56666" d="M590.3,533.4 647.1,533.4 653.7,550.1 640.4,563.4 623.7,566.8 607,560.1 593.6,546.7Z"/>
<path fill="#CC9085" d="M595.3,536.7 607,535 610.3,546.7 600.3,550.1Z"/>
<path fill="#FFFFFF" d="M607,532.5 618.7,532.5 617,543.4 610.3,545.1Z"/>
<path fill="#FFFFFF" d="M627,533.4 637,535 638.7,550.1 630.4,556.8 627,566.8 622,565.1 627,550.1Z"/>
<path fill="#F56666" d="M551.8,563.4 573.6,566.8 586.9,576.8 590.3,593.5 593.6,613.6 586.9,630.3 573.6,647 560.2,636.9 551.8,620.2Z"/>
<path fill="#FA3232" d="M558.5,580.1 576.9,583.5 583.6,600.2 580.2,616.9 566.9,623.6 556.8,606.9Z"/>
<path fill="#F5CCCC" d="M607,580.1 630.4,576.8 633.7,593.5 630.4,606.9 617,610.2 608.6,596.8Z"/>
<path fill="#7D5F0D" d="M586.9,647 595.3,625.2 600.3,636.9 607,647 612,628.6 618.7,636.9 622,653.6 627,658.7 637,653.6 647.1,626.9 657.1,610.2 663.8,620.2 670.4,640.3 684.6,636.9 684.6,670 583.6,670Z"/>
<path fill="#9E8609" d="M593.6,650.3 600.3,653.6 610.3,658.7 613.6,647 620.3,660.3 630.4,663.7 643.7,650.3 653.7,626.9 660.4,633.6 667.1,650.3 684.6,647 684.6,670 588.6,670Z"/>
<path fill="#F56666" d="M622,626.9 630.4,628.6 632,647 627,653.6 622,643.6Z"/>
<path fill="#FDC270" d="M242.1,448.3 248.2,424 260.3,422 270.4,440.2 282.5,460.4 294.6,480.6 306.7,500.7 318.8,516.9 335,537.1 343,561.3 345.1,587.5 335,597.6 314.8,593.6 298.6,581.5 282.5,561.3 270.4,541.1 258.3,520.9 250.2,504.8 244.1,480.6Z"/>
<path fill="#FDAD55" d="M236.1,486.6 250.2,504.8 258.3,520.9 270.4,541.1 282.5,561.3 290.6,577.4 278.4,573.4 264.3,549.2 252.2,525 242.1,508.8Z"/>
<path fill="#8A7409" d="M247.2,446.2 250.2,430.1 256.2,428.1 260.3,438.2 262.3,450.3 270.4,462.4 276.4,476.5 282.5,488.6 288.5,500.7 298.6,514.9 308.7,529 318.8,539.1 328.9,551.2 332.9,565.3 335,581.5 330.9,589.6 320.8,585.5 310.7,575.4 300.6,565.3 292.6,549.2 284.5,533 276.4,520.9 268.4,508.8 260.3,496.7 254.2,480.6 249.2,464.4Z"/>
<path fill="#7D5F0D" d="M262.3,486.6 276.4,496.7 288.5,512.9 298.6,529 294.6,537.1 284.5,525 274.4,510.8 264.3,498.7Z"/>
<path fill="#BFAE06" d="M306.7,533 318.8,541.1 327.9,553.2 331.9,567.4 334,581.5 329.9,587.5 320.8,581.5 314.8,565.3 306.7,549.2Z"/>
<path fill="#CC9085" d="M286.5,444.2 298.6,446.2 302.7,460.4 302.7,476.5 294.6,468.4 288.5,456.3Z"/>
<path fill="#CC9085" d="M268.4,426.1 284.5,424 286.5,434.1 274.4,436.1Z"/>
<path fill="#F59999" d="M296.6,476.5 310.7,476.5 324.9,496.7 339,514.9 351.1,533 355.2,557.3 343,561.3 335,549.2 324.9,533 314.8,516.9 304.7,500.7Z"/>
<path fill="#FFFFFF" d="M300.6,478.5 308.7,480.6 316.8,490.6 326.9,504.8 335,516.9 343,529 349.1,545.2 348.1,555.2 341,553.2 335,541.1 326.9,529 318.8,514.9 310.7,500.7 304.7,488.6Z"/>
<path fill="#9E8609" d="M551.8,667 607,667 607,678.7 570.2,678.7 570.2,692.1 551.8,692.1Z"/>
<path fill="#FDC270" d="M553.5,670.4 566.9,668.7 567.7,680.4 555.2,683.7Z"/>
</g>
<g filter="url(#spb)" fill="#B36A5E"><path d="M200,211.7 240.1,216.7 245.1,278.6 370.4,283.6 372.1,198.4 423.9,198.4 432.2,285.2 382.1,291.9 373.8,333.7 216.7,333.7 218.4,275.2Z"/><path d="M371.7,198.4 527.1,198.4 560.5,235.1 557.1,288.6 543.8,312 460.2,318.6 410.1,285.2 373.4,251.8Z"/><path d="M245.1,293.4 370.4,281.7 370.4,390.3 211.7,390.3 218.4,326.8Z"/><path d="M213.4,393.4 437.3,393.4 437.3,496.9 347.1,496.9 307,473.6 296.9,483.6 280.2,450.2 246.8,430.1 213.4,433.5Z"/></g>
<g filter="url(#spr)" fill="#FA3232"><path d="M200,211.7 370.4,198.4 423.9,198.4 432.2,285.2 373.8,333.7 216.7,333.7Z"/><path d="M211.7,281.7 504.1,281.7 504.1,390.3 211.7,390.3Z"/><path d="M213.4,393.4 437.3,393.4 437.3,496.9 347.1,496.9 296.9,483.6 246.8,430.1 213.4,433.5Z"/></g>
<g filter="url(#spw)" fill="#FFFFFF"><path d="M245.1,198.4 370.4,198.4 370.4,218.4 340.4,223.4 306.9,223.4 293.6,240.1 290.2,260.2 283.6,278.6 256.8,288.6 245.1,278.6 253.5,255.2 256.8,235.1 250.1,218.4Z"/><path d="M213.4,221.8 240.1,223.4 240.1,241.8 223.4,241.8 215.1,235.1Z"/><path d="M371.7,198.4 466.9,198.4 480.3,235.1 527.1,245.1 552.1,255.2 543.8,285.2 510.4,301.9 476.9,312 453.6,305.3 430.2,285.2 410.1,255.2 393.4,235.1 373.4,228.4Z"/><path d="M382.1,285.1 427.2,285.1 450.6,310.1 474,323.5 504.1,318.5 504.1,338.5 474,353.6 437.2,353.6 407.2,340.2 387.1,320.1Z"/><path d="M460.2,278.6 543.8,278.6 552.1,308.6 505.3,308.6 503.7,318.6 460.2,318.6Z"/><path d="M248.5,293.4 270.2,291.7 273.5,326.8 283.6,346.9 290.2,370.3 276.9,380.3 255.2,376.9 251.8,343.5Z"/><path d="M293.6,315.1 357.1,310.1 360.4,336.8 333.7,346.9 306.9,343.5Z"/><path d="M566.9,421.7 637,421.7 643.7,480.2 640.4,531.1 566.9,531.1 563.5,500.2Z"/></g>
</g>
<ellipse cx="1135.0" cy="878.0" rx="1.6" ry="1.2" fill="#A9F5DF"/>
<ellipse cx="1152.1" cy="879.1" rx="2.2" ry="1.4" fill="#A9F5DF"/>
<ellipse cx="1164.0" cy="877.2" rx="4.5" ry="2.0" fill="#A9F5DF"/>
<ellipse cx="1174.7" cy="875.3" rx="4.0" ry="2.2" fill="#A9F5DF"/>
<ellipse cx="1184.2" cy="870.1" rx="3.5" ry="3.0" fill="#A9F5DF"/>
<ellipse cx="1191.3" cy="862.5" rx="2.5" ry="3.5" fill="#A9F5DF"/>
<ellipse cx="1194.4" cy="856.3" rx="2.0" ry="3.0" fill="#A9F5DF"/>
<ellipse cx="1002" cy="223.5" rx="9" ry="3" fill="#FF82E0" transform="rotate(-22 1002 223.5)"/>
<ellipse cx="1002" cy="223.5" rx="6" ry="1.5" fill="#FFB0DC" transform="rotate(-22 1002 223.5)"/>
<ellipse cx="307" cy="616" rx="9" ry="2" fill="#FDC270"/>
<ellipse cx="339" cy="632" rx="3.5" ry="2.5" fill="#7DDF00"/>
<ellipse cx="316" cy="637" rx="2.2" ry="2.2" fill="#BFAE06"/>
<ellipse cx="339" cy="647" rx="4" ry="1.6" fill="#FFFF00" transform="rotate(45 339 647)"/>
<ellipse cx="326" cy="628" rx="1.2" ry="1.2" fill="#FFFF00"/>
<ellipse cx="1118" cy="279.5" rx="5.5" ry="3.5" fill="#E8B8B0"/>
<ellipse cx="1452" cy="349" rx="3" ry="1.5" fill="#9A4535"/>
<circle cx="236" cy="201" r="1.6" fill="#FA3232"/>
<g fill="none" stroke="#000" stroke-width="3.7" stroke-linejoin="round" stroke-linecap="round">
<path d="M370.8,195.8 370.8,279.5"/>
<path d="M220,276 230,276.5 236.2,278 241.2,281.2 243,288 246.2,290.5 253.8,291.8 265,289.2 280,290 292.5,287 305,283.8 320,280.8 330,279.2 372.5,279.2"/>
<path d="M372.5,279.2 380,283.8 383.8,288.8 382.5,295 378.8,302.5 375,310 371.2,316.2 367.5,325 372.5,327.5 372,332.5 371.5,391.2"/>
<path d="M393.2,195.8 393.2,225 397.5,231.2 401.2,238.8 408.8,243.8 415,251.2 421.2,257.5 427.5,261.2 432,262.5 431.2,270 428.8,277.5 427.5,287.5 431.2,292.5 440,287.5 443.8,292.5 447.5,300 451.2,307.5 455,312.5 460,317.5 462.5,323.8 467.5,325 480,322.5 490,318.8 497.5,316.2 501.2,318.8 505,320"/>
<path d="M210,391.2 505.1,391.3"/>
<path d="M505.1,307.5 662,307.5 662,419.2 505.1,419.2 505.1,307.5"/>
<path d="M505,320 505.1,391.3"/>
<path d="M662,195.8 662,307.5"/>
<path d="M662,281.2 828.8,280"/>
<path d="M662,363.3 782.5,363.8 790,367.5 797.5,370 807.5,368 817.5,368.8 825,371.2 827.5,372.5"/>
<path d="M304.4,391.3 304.4,475.1 424.8,586.8"/>
<path d="M437.8,391.3 437.8,530.9"/>
<path d="M437.8,530.9 438.8,552.5 435,558.8 426.2,558.8 423.8,562.5 423.8,577.5 426.2,587.5 428.8,597.5 426.2,585 430,595 435,607.5 430,612.5 427.5,621.2 426.2,628.8 422.5,635 425,642.5 428,646.2 425,651.2 421.2,652"/>
<path d="M437.8,530.9 873.4,530.9"/>
<path d="M549.9,419.2 549.9,689.3"/>
<path d="M505.1,419.2 706.8,419.2"/>
<path d="M706.8,419.2 706.8,530.9"/>
<path d="M706.8,447.1 865,446.2"/>
<path d="M685.5,530.9 685.5,670.6"/>
<path d="M685.5,544.9 752.8,544.9"/>
<path d="M752.8,544.9 752.7,600"/>
<path d="M604.8,670.6 684.2,670.6"/>
<path d="M752.7,600 756.7,600 763.3,605 770,610 776.7,608.3 783.3,613.3 793.3,616.7 800,620 806.7,618.3 815,623.3 825,620 833.3,623.3 843.3,620 850,616.7 858.3,618.3 866.7,621.7 876.7,625 886,626.7"/>
<path d="M886,626.7 886.7,671.7 888.3,676.7 893.3,685 896.7,695 895,708.3 891.7,718.3 893.3,728.3 890.7,735"/>
<path d="M886.7,643.3 950,643.3"/>
<path d="M873.4,544.9 876.7,620 886,626.7"/>
<path d="M872.5,470 873.4,544.9"/>
<path d="M873.4,544.9 972.5,546.2 970,557.5 982.5,557.5"/>
<path d="M815,195.8 818.8,207.5 821.2,220 823.8,232.5 825,245 826.2,257.5 827.5,270 828.8,280 826.2,285 823.8,290 828.8,293.8 832,297.5 832,350 828.8,352.5 831.2,360 830,367.5 827.5,372.5 831.2,380 833.8,387.5 837.5,395 840,403 843.8,407.5 847.5,422.5 851.2,430 857.5,442.5 865,451.2 863.8,456.2 868.8,465 872.5,470"/>
<path d="M832,350 950,349.5"/>
<path d="M851.2,430 947.5,430"/>
<path d="M932.5,258.8 927.5,262.5 926.2,275 920,280 912.5,287.5 912.5,297.5 915,310 922.5,320 932.5,327.5 942.5,335 948.8,342.5 950,352.5 952.5,365 957.5,375 967.5,377.5 972.5,387.5 970,397.5 962.5,405 952.5,407.5 951.2,417.5 953.8,423.8 947.5,430 943.8,435 942.5,445 946.2,455 952.5,463.8 958.8,472.5 963.8,476.2 970,478.8 971.2,487.5 967.5,492.5 972.5,500 980,507.5 987.5,515 990,522.5 993.8,532.5 990,542.5 986.2,550 982.5,557.5 978.8,567.5 976.2,577.5 972.5,587.5 968.3,596.7 961.7,610 955,620 950,630 951.7,640 953.3,653.3 951.7,666.7 946.7,676.7 941.7,688.3 940,700"/>
<path d="M940,699.3 978.3,699.3 981.7,710 983.3,720"/>
<path d="M957.5,377.5 1026.2,377.5"/>
<path d="M970,262.5 980,266.2 995,272.5 1010,277.5 1017.5,280 1023.8,286.2 1026.2,293.8 1028.8,298.8 1035,305"/>
<path d="M1032,400 1032,480 1028.8,487.5 1025,495 1021.2,500 1018.8,506.2 1017.5,510"/>
<path d="M1053.8,396.2 1092.5,397 1122.5,397"/>
<path d="M1092.5,397 1092.5,472.5"/>
<path d="M1188.8,430 1185,440 1177.5,452.5 1167.5,463.8 1157.5,470 1151.2,477.5 1150,485 1143.8,491.2 1137.5,485 1130,483.8 1122.5,486.2 1115,483.8 1107.5,480 1100,473.8 1092.5,472.5 1090,480 1083.8,482.5 1077.5,487.5 1073.8,495 1068.8,500 1062.5,497.5 1057.5,501.2 1052.5,506.2 1045,505 1037.5,507.5 1030,505 1023.8,506.2 1017.5,510 1015,517.5 1010,521.2 1012.5,526.2 1005,528.8 997.5,526.2 993.8,532.5"/>
<path d="M1188.8,391.2 1188.8,455"/>
<path d="M1188.8,455 1297.5,455"/>
<path d="M990,547 1018.8,547 1020,542.5 1162.5,543 1296.2,543.8"/>
<path d="M1118.8,542.5 1127.5,537.5 1135,530 1142.5,525 1153.8,517.5 1148.8,511.2 1143.8,502.5 1142.5,495 1143.8,491.2"/>
<path d="M1153.8,517.5 1160,523.8 1167.5,525 1177.5,521.2 1187.5,517.5 1195,513.8 1193.8,508.8 1200,502.5 1207.5,495 1210,488.8 1217.5,487.5 1222.5,480 1228.8,475 1235,468.8 1240,463.8 1250,468.8"/>
<path d="M1212.5,455 1212.5,467.5 1220,463.8 1230,458.8 1237.5,456.2 1245,461.2 1250,468.8 1257.5,472.5 1265,480 1262.5,487.5 1270,492.5 1277.5,497.5"/>
<path d="M1162.5,543.8 1157.5,550 1150,555 1137.5,560 1127.5,566.2 1117.5,572.5 1106.2,578.8 1102.5,586.2"/>
<path d="M974,586.7 1050,586.2 1102.5,586.2 1125,585.5"/>
<path d="M1125,585.5 1125,589.5 1132.5,585 1145,582 1176.2,582.5 1182.5,592.5 1207.5,593 1233.8,618.8"/>
<path d="M1125,589.5 1132.5,605 1140,615 1150,626.2 1157.5,635 1163.8,645 1168.8,655 1172.5,665 1177.5,670"/>
<path d="M1073.8,587 1078.8,620 1083.8,645 1088.8,663.8 1085,677.5 1086.2,693 1085,681.5 1086.2,694 1088.8,706.5"/>
<path d="M1016.7,587.3 1010.8,669 1010.8,715.2"/>
<path d="M1033.8,712.8 1031.2,706.5 1028.8,698.5 1086.2,697.8"/>
<path d="M1088.8,706.5 1151.2,713.5 1152.5,717.8 1155,714 1155.5,705.2 1167.5,707.8"/>
<path d="M1204.3,386.7 1206,390.9 1301.2,391.2 1305.4,393.4 1310.4,397.6 1312.9,403.4 1317.1,406.8 1312.9,413.5 1307.9,421.8 1307,426.8 1310.4,431.8 1314.6,436.8 1318.7,441.9 1314.6,446 1308.7,450.2 1302,452.7 1297,454.4"/>
<path d="M1317.1,406.8 1338.8,418.5"/>
<path d="M1298.4,454.8 1294.9,456.4 1294.9,491.4 1309.4,491.4"/>
<path d="M1338.8,418.5 1343.2,414.5 1344.2,403.4 1346.2,389.8 1350.3,370.1 1349.3,360"/>
<path d="M1346.2,389.8 1384.6,389.8 1393.1,390.3 1395.1,396.3 1396.9,400.5"/>
<path d="M1384.6,389.8 1384.6,408.9"/>
<path d="M1350.3,370.1 1394.6,370.6 1398.7,368.1 1403.7,366.1 1406.9,364"/>
<path d="M1347,306.9 1347.8,320.2 1346.2,333.6 1347,347 1351.2,352 1352,369 1353,369.2"/>
<path d="M1387.9,306 1386.3,313.6 1385.4,321.9 1377.1,326.9 1373.7,336.9 1372.1,347 1368.7,358.7 1366.2,369 1367.2,370"/>
<path d="M1398.8,298.5 1399.6,313.6 1400.5,328.6 1402.1,347 1406.3,363.7"/>
<path d="M243.8,195.8 244.5,203.8 240,217.5 220,216.2 201.2,212.5 200,216.2 203.8,223.8 207.5,233.8 211.2,242.5 213.8,252.5 215,260 217.5,267.5 220,276 217.5,280 217,290 216.2,305 213.8,320 212,335 208.8,352.5 205,366.2 206.2,375 208.8,382.5 210,391.2 212,398.8 213.8,407.5 212.5,417.5 207.5,430 207,436.2 211.2,443.8 217.5,451.2 220,460 221.2,468.8 223.8,476.2 230,483.8 236.2,491.2 241.2,498.8 246.2,503.8 250,515 255,522.5 262.5,527.5 263.8,536.2 262.5,542.5 267.5,550 272.5,557.5 278.8,566.2 277.5,566.2 285,572.5 290,581.2 291.2,590 292.5,598.8 303.8,602.5 315,604.5 322.5,610 335,615 342.5,621.2 350,622.5 357.5,630 363.8,637.5 366.2,645 369.5,656.2 421.2,652 422.5,658 503.8,690 568.8,690 568.8,677 605,676.2 610,682.5 617.5,691.2 625,698.8 635,707.5 642.5,715 647.5,725 650,732.5 656.2,738.8 665,746.2 675,753.8 681.2,756.2 686.2,750 690,740 693.8,735 700,732.5 712.5,733.8 722.5,740 730,750 736.2,760 741.2,770 747.5,777.8 755,789 762.5,800.2 765,811.5 771.2,824 777.5,830.2 790,836.5 802.5,840.2 815,841.5 816.2,839 813.8,829 811.2,816.5 810,804 803.8,800.2 810,791.5 813.8,781.5 822.5,774 832.5,766.5 845,762.8 857.5,754 865,742.8 867.5,734 872.5,740.2 885,735.2 888.2,733.8 895,733.1 904.4,733.8 911.1,737.2 919.2,739.9 925.9,739.2 927.2,733.8 932.6,731.8 939.4,733.8 942,739.2 947.4,743.2 951.5,748.6 956.8,752.6 962.2,749.9 963.6,746.6 968.9,747.2 973,749.9 975.7,743.2 978.4,742.5 981,745.9 985.1,747.2 989.1,749.9 993.2,752.6 989.8,756.7 993.2,756 998.5,750.6 995.8,747.9 991.1,745.9 986.4,741.9 985.1,737.8 989.1,733.8 993.8,728.4 994.5,723.7 991.1,721.7 988.4,724.4 986.4,719 989.1,716.3 995.8,715.2 1002.6,714.7 1009.3,715.2 1012.7,716.3 1012.5,715.2 1018.8,706.5 1022.5,716.5 1026.2,720.2 1030,711.5 1035,713.5 1050,714 1060,716.5 1070,721.5 1077.5,729 1078.8,735.2 1090,732.8 1100,727.8 1108.8,724.5 1117.5,730.2 1125,739 1132.5,749 1138.8,757.8 1141.2,769 1137.5,781.5 1136.2,787.8 1141.2,792.8 1143.8,799 1142.5,805.2 1147.5,812.8 1152.5,816.5 1153.8,824 1158.8,834 1162.5,841.5 1170,849 1173.8,857.8 1176.2,863.5 1182.5,862.8 1191.2,859 1196.2,849 1198.8,836.5 1200,819 1196.2,804 1191.2,789 1186.2,774 1182.5,761.5 1177.5,746.5 1172.5,731.5 1169.5,716.5 1167.5,706.5 1166.2,699 1170,689 1173.8,679 1180,671.5 1181.2,662.5 1190,655 1200,648.8 1210,642.5 1216.2,636.2 1222.5,627.5 1230,621.2 1240,618.8 1247.5,615 1252.5,606.2 1260,600 1270,595 1280,592.5 1283.8,586.2 1290,583.8 1297.5,581.2 1301.2,572.5 1300,562.5 1296.2,552.5 1293.8,542.5 1292.6,539.3 1291,534.6 1285.5,529.9 1282.4,522 1283.9,514.2 1282.4,504.8 1280.8,495.3 1276.9,489.1 1277.7,482.8 1276.9,473.4 1279.2,465.5 1282.4,459.2 1287.1,459.2 1286.3,471.8 1287.1,482.8 1288.7,492.2 1291.8,501.6 1293.4,511 1290.2,520.5 1289.4,528.3 1293.4,522 1299.6,514.2 1304.4,507.9 1308.3,498.5 1309.8,491.4 1310.6,485.9 1309.1,479.6 1304.4,471.8 1300.4,465.5 1298.9,455.3 1298.1,453.7 1302.8,462.4 1307.5,470.2 1313.8,474.9 1314.6,476.9 1318.7,471.9 1323.7,466.9 1327.1,460.2 1331.3,453.6 1333.8,446.9 1335.4,438.5 1332.1,433.5 1328.8,431.8 1331.3,426.8 1338.8,418.5 1338.8,418.5 1345.2,415 1357.3,410.9 1370.4,410.7 1382.5,410.4 1390.6,406.6 1395.1,402.9 1397.7,400.9 1400.7,403.4 1403.7,406.4 1408.8,404.4 1410.8,400.3 1416.8,398.8 1421.9,395.5 1420.9,392.5 1417.3,390.3 1418.6,388.6 1422.9,389.8 1425.5,393.3 1424.1,396.5 1419.1,398.1 1413,398.3 1410.8,393.3 1407.8,388.2 1403.7,385.2 1399.7,383.2 1401.7,379.2 1408.8,375.1 1405.7,370.1 1406.9,364 1408.8,360 1406.3,363.7 1408.8,358.7 1412.2,352 1417.2,348.6 1422.2,343.6 1428.9,340.3 1433.9,336.9 1440.6,333.6 1447.2,326.9 1448.9,321.9 1453.9,323.6 1462.3,326.9 1467.3,323.6 1474,321.9 1480.7,318.6 1488.2,315.2 1490.7,308.5 1487.3,303.5 1482.3,298.5 1480.7,290.2 1474,286.8 1474,250.9 1469,245.1 1462.3,240.9 1453.9,242.6 1446.4,245.1 1445.6,239.2 1440.6,238.4 1435.5,243.4 1428.9,251.7 1423,260.1 1422.2,268.4 1417.2,275.1 1415.5,285.2 1410.5,290.2 1408.8,295.2 1402.1,297.7 1393.8,298.5 1390.4,301.9 1387.9,306 1347,306.9 1313.6,307.2 1306.9,310.2 1300.2,315.2 1293.6,321.9 1286.9,328.6 1281,331.9 1281.9,336.9 1285.2,342 1282.7,347 1275.2,350.3 1266.8,355.3 1255.1,357 1246.8,353.6 1233.4,352.8 1223.4,353.6 1220,357 1220.9,362 1225.2,366.7 1223.5,371.7 1216.8,378.4 1203.5,386.7 1185.9,393.4 1166.7,399.3 1150,405.1 1145,407.5 1135,406.2 1130,402.5 1122.5,397 1127.5,390 1131.2,380 1137.5,375 1141.2,370 1145,365 1143.8,355 1142.5,345 1138.8,336.2 1132.5,335 1125,340 1117.5,346.2 1113.8,343.8 1115,337.5 1121.2,330 1125,320 1127.5,307.5 1123.8,300 1115,295 1105,291.2 1095,287.5 1087.5,288.8 1080,295 1073.8,302.5 1066.2,308.8 1060,317.5 1055.5,330 1055,342.5 1059.5,355 1060.5,370 1057.5,385 1053.8,390 1047.5,397.5 1040,401.2 1032.5,397.5 1028.8,385 1026.2,370 1025,367.5 1025,355 1026.2,342.5 1030,330 1033.8,316.2 1040,305 1045,297.5 1040,300 1032.5,307.5 1026.2,315 1020,320 1025,313.8 1030,305 1035,305 1037.5,297.5 1040,290 1043.8,282.5 1047.5,285 1052.5,283.8 1057.5,281.2 1065,280 1075,280 1083.8,277.5 1092.5,278.8 1102.5,280 1112.5,280 1110,276.2 1105,271.2 1100,266.2 1090,263.8 1088.8,258.2 1080,258.8 1070,260 1060,261.2 1052.5,265 1045,266.2 1035,262.5 1027.5,256.2 1020,255 1012.5,255 1015,248.8 1020,245 1027.5,241.2 1026.2,238.8 1017.5,239.5 1010,242.5 1000,248.8 990,253.8 980,258.8 970,262.5 965,260 958.8,262.5 955,254.5 945,256.2 932.5,258.8 940,253.8 950,247.5 960,241.2 970,233.8 980,227.5 987.5,223.8 975,221.2 965,220 957.5,217 950,218.8 940,220 930,217.5 922.5,213.8 915,208.8 902.5,206.2 890,207 880,205 872,202 869.5,185.5 860,185.5 859.5,195.8ZM1332.1,429.6 1339.2,420.5 1345.2,419 1353.3,419.7 1362.4,417.7 1370.4,415.2 1375.3,414.5 1374.5,416.5 1367.4,419.5 1381.5,417 1382,418.5 1372.5,422 1362.4,427.1 1352.3,430.8 1340.2,431.1Z" stroke-width="3.8"/>
<path d="M1262,492.2 1271.4,496.9 1278.5,493.8" stroke-width="4.5"/>
<path d="M1268.3,503.2 1276.1,509.5 1283.6,514.2" stroke-width="4.5"/>
<path d="M1269,518.1 1277.7,522 1284.7,524.4" stroke-width="4.5"/>
<path d="M1266.7,524.4 1274.5,528.3 1281.1,530.7" stroke-width="4.5"/>
<path d="M1271.2,553 1282.5,554.5 1291.2,552.5" stroke-width="4.5"/>
<path d="M1267.5,575 1285,572.5 1294.5,565.5" stroke-width="4.5"/>
<path d="M1264.5,587.5 1280,583 1288.8,576.2" stroke-width="4.5"/>
<path d="M1275,561.2 1287.5,562.5" stroke-width="4.5"/>
<path d="M1020.5,319.1 1028.1,310.1 1035.7,300.6 1041.1,289.9 1044.7,283.1" stroke-width="4.5"/>
</g>
<path d="M235.1,207.6 240.1,206.4 247.6,207.6 252.1,210.1 253.5,218.4 257.2,228.1 253.8,235.1 255.5,241.8 252.1,250.2 242.1,256.5 237.1,252.2 235.4,245.5 240.1,240.5 243.5,233.8 240.1,228.8 245.1,225.1 246.5,218.7 240.1,215.4 234.8,213.1Z" fill="#000" stroke="#000" stroke-width="2"/>
<path d="M248,499.5 255,497.5 261.2,500 260.5,505 256.2,507.5 259.5,512.5 263.8,516.2 263,520.5 258,520 253,517 250,511.2 251.2,506.2 248,503.8Z" fill="#000" stroke="#000" stroke-width="2"/>
<path d="M1287.1,532.2 1285.5,529.9 1282.4,522 1283.9,514.2 1282.4,504.8 1280.8,495.3 1276.9,489.1 1277.7,482.8 1276.9,473.4 1279.2,465.5 1282.4,459.2 1287.1,459.2 1286.3,471.8 1287.1,482.8 1288.7,492.2 1291.8,501.6 1293.4,511 1290.2,520.5 1289.4,528.3Z" fill="#000"/>
<ellipse cx="973.0" cy="721.7" rx="6.5" ry="4.2" fill="none" stroke="#000" stroke-width="3" transform="rotate(-12 973.0 721.7)"/>
<ellipse cx="1421.9" cy="410.9" rx="3.8" ry="3.0" fill="#000"/>
<ellipse cx="1409.3" cy="409.4" rx="5.0" ry="2.6" fill="#000"/>
<ellipse cx="1141.7" cy="786.7" rx="5" ry="5.5" fill="#000"/>
<ellipse cx="1152.3" cy="813.3" rx="3.2" ry="3.5" fill="#000"/>
<ellipse cx="1176.7" cy="860.7" rx="4.5" ry="4" fill="#000"/>
<ellipse cx="828.3" cy="765.7" rx="4" ry="3" fill="#000"/>
<ellipse cx="804.0" cy="799.0" rx="3.5" ry="4.5" fill="#000"/>
<ellipse cx="867.3" cy="736.7" rx="3" ry="4" fill="#000"/>
<ellipse cx="836.7" cy="761.0" rx="3" ry="2.5" fill="#000"/>
<ellipse cx="950.0" cy="666.7" rx="2.5" ry="2.5" fill="#000"/>
<ellipse cx="982.7" cy="726.0" rx="3.2" ry="2.8" fill="#000"/>
<ellipse cx="1076.1" cy="309.0" rx="3.0" ry="5.5" fill="#000"/>
<ellipse cx="1050.6" cy="285.4" rx="3.0" ry="2.5" fill="#000"/>
<text class="t" x="847.9" y="56.6" font-size="32" font-weight="bold" text-anchor="middle" letter-spacing="0.81">Silver Y moth: Earliest date of 1st gen. pupal development 2026</text>
<text class="t" x="847.9" y="107.2" font-size="26.4" letter-spacing="0.355" text-anchor="middle">Maps and modeling 01/08/2026 by Oregon State University IPPC USPEST.ORG and</text>
<text class="t" x="847.9" y="139.5" font-size="26.4" letter-spacing="0.355" text-anchor="middle">USDA-APHIS-PPQ; climate data from OSU PRISM Climate Group</text>
<text class="t" x="1534.8" y="302.6" font-size="24.5" letter-spacing="1.0" font-weight="bold">Earliest</text>
<text class="t" x="1534.8" y="330.63" font-size="24.5" letter-spacing="1.0" font-weight="bold">date of 1st</text>
<text class="t" x="1534.8" y="358.66" font-size="24.5" letter-spacing="1.0" font-weight="bold">gen. pupal</text>
<text class="t" x="1534.8" y="386.69" font-size="24.5" letter-spacing="1.0" font-weight="bold">development</text>
<rect x="1535.0" y="400.80" width="26" height="25.75" fill="#A9F5DF"/><text class="l" x="1570.5" y="421.10">Feb-21</text>
<rect x="1535.0" y="426.25" width="26" height="25.75" fill="#90E4D4"/><text class="l" x="1570.5" y="446.55">Feb-28</text>
<rect x="1535.0" y="451.70" width="26" height="25.75" fill="#B9FDC3"/><text class="l" x="1570.5" y="472.00">Mar-07</text>
<rect x="1535.0" y="477.15" width="26" height="25.75" fill="#8FD298"/><text class="l" x="1570.5" y="497.45">Mar-14</text>
<rect x="1535.0" y="502.60" width="26" height="25.75" fill="#68A66F"/><text class="l" x="1570.5" y="522.90">Mar-21</text>
<rect x="1535.0" y="528.05" width="26" height="25.75" fill="#3B7A40"/><text class="l" x="1570.5" y="548.35">Mar-28</text>
<rect x="1535.0" y="553.50" width="26" height="25.75" fill="#CCFF00"/><text class="l" x="1570.5" y="573.80">Apr-04</text>
<rect x="1535.0" y="578.95" width="26" height="25.75" fill="#A6EE00"/><text class="l" x="1570.5" y="599.25">Apr-11</text>
<rect x="1535.0" y="604.40" width="26" height="25.75" fill="#7DDF00"/><text class="l" x="1570.5" y="624.70">Apr-18</text>
<rect x="1535.0" y="629.85" width="26" height="25.75" fill="#53D000"/><text class="l" x="1570.5" y="650.15">Apr-25</text>
<rect x="1535.0" y="655.30" width="26" height="25.75" fill="#FFFF00"/><text class="l" x="1570.5" y="675.60">May-02</text>
<rect x="1535.0" y="680.75" width="26" height="25.75" fill="#DFD800"/><text class="l" x="1570.5" y="701.05">May-09</text>
<rect x="1535.0" y="706.20" width="26" height="25.75" fill="#BFAE06"/><text class="l" x="1570.5" y="726.50">May-16</text>
<rect x="1535.0" y="731.65" width="26" height="25.75" fill="#9E8609"/><text class="l" x="1570.5" y="751.95">May-23</text>
<rect x="1535.0" y="757.10" width="26" height="25.75" fill="#7D5F0D"/><text class="l" x="1570.5" y="777.40">May-30</text>
<rect x="1662.2" y="400.80" width="24.8" height="25.75" fill="#FDD78F"/><text class="l" x="1698.0" y="421.10">Jun-06</text>
<rect x="1662.2" y="426.25" width="24.8" height="25.75" fill="#FDC270"/><text class="l" x="1698.0" y="446.55">Jun-13</text>
<rect x="1662.2" y="451.70" width="24.8" height="25.75" fill="#FDAD55"/><text class="l" x="1698.0" y="472.00">Jun-20</text>
<rect x="1662.2" y="477.15" width="24.8" height="25.75" fill="#FD9632"/><text class="l" x="1698.0" y="497.45">Jun-27</text>
<rect x="1662.2" y="502.60" width="24.8" height="25.75" fill="#F5CCCC"/><text class="l" x="1698.0" y="522.90">Jul-04</text>
<rect x="1662.2" y="528.05" width="24.8" height="25.75" fill="#F59999"/><text class="l" x="1698.0" y="548.35">Jul-11</text>
<rect x="1662.2" y="553.50" width="24.8" height="25.75" fill="#F56666"/><text class="l" x="1698.0" y="573.80">Jul-18</text>
<rect x="1662.2" y="578.95" width="24.8" height="25.75" fill="#FA3232"/><text class="l" x="1698.0" y="599.25">Jul-25</text>
<rect x="1662.2" y="604.40" width="24.8" height="25.75" fill="#E8B8B0"/><text class="l" x="1698.0" y="624.70">Aug-01</text>
<rect x="1662.2" y="629.85" width="24.8" height="25.75" fill="#CC9085"/><text class="l" x="1698.0" y="650.15">Aug-08</text>
<rect x="1662.2" y="655.30" width="24.8" height="25.75" fill="#B36A5E"/><text class="l" x="1698.0" y="675.60">Aug-15</text>
<rect x="1662.2" y="680.75" width="24.8" height="25.75" fill="#9A4535"/><text class="l" x="1698.0" y="701.05">Aug-22</text>
<rect x="1662.2" y="706.20" width="24.8" height="25.75" fill="#84210E"/><text class="l" x="1698.0" y="726.50">Aug-29</text>
<rect x="1662.2" y="731.65" width="24.8" height="25.75" fill="#FFB0DC"/><text class="l" x="1698.0" y="751.95">Sep-05</text>
<rect x="1662.2" y="757.10" width="24.8" height="25.75" fill="#FF82E0"/><text class="l" x="1698.0" y="777.40">Sep-12</text>
<rect x="1787.2" y="400.80" width="24.8" height="25.75" fill="#FF55E5"/><text class="l" x="1823.0" y="421.10">Sep-19</text>
<rect x="1787.2" y="426.25" width="24.8" height="25.75" fill="#FF2EF0"/><text class="l" x="1823.0" y="446.55">Sep-26</text>
<rect x="1787.2" y="451.70" width="24.8" height="25.75" fill="#E3C0E8"/><text class="l" x="1823.0" y="472.00">Oct-03</text>
<rect x="1787.2" y="477.15" width="24.8" height="25.75" fill="#CB97D8"/><text class="l" x="1823.0" y="497.45">Oct-10</text>
<rect x="1787.2" y="502.60" width="24.8" height="25.75" fill="#B46FC8"/><text class="l" x="1823.0" y="522.90">Oct-17</text>
<rect x="1787.2" y="528.05" width="24.8" height="25.75" fill="#9E48B6"/><text class="l" x="1823.0" y="548.35">Oct-24</text>
<rect x="1787.2" y="553.50" width="24.8" height="25.75" fill="#8822AA"/><text class="l" x="1823.0" y="573.80">Oct-31</text>
<rect x="1787.2" y="578.95" width="24.8" height="25.75" fill="#B2ECFC"/><text class="l" x="1823.0" y="599.25">Nov-07</text>
<rect x="1787.2" y="604.40" width="24.8" height="25.75" fill="#85D3F0"/><text class="l" x="1823.0" y="624.70">Nov-14</text>
<rect x="1787.2" y="629.85" width="24.8" height="25.75" fill="#58BAE5"/><text class="l" x="1823.0" y="650.15">Nov-21</text>
<rect x="1787.2" y="655.30" width="24.8" height="25.75" fill="#A0C4E8"/><text class="l" x="1823.0" y="675.60">Dec-03</text>
<rect x="1787.2" y="680.75" width="24.8" height="25.75" fill="#7891EA"/><text class="l" x="1823.0" y="701.05">Dec-16</text>
<rect x="1787.2" y="706.20" width="24.8" height="25.75" fill="#5060F0"/><text class="l" x="1823.0" y="726.50">Dec-19</text>
</svg></body></html>
